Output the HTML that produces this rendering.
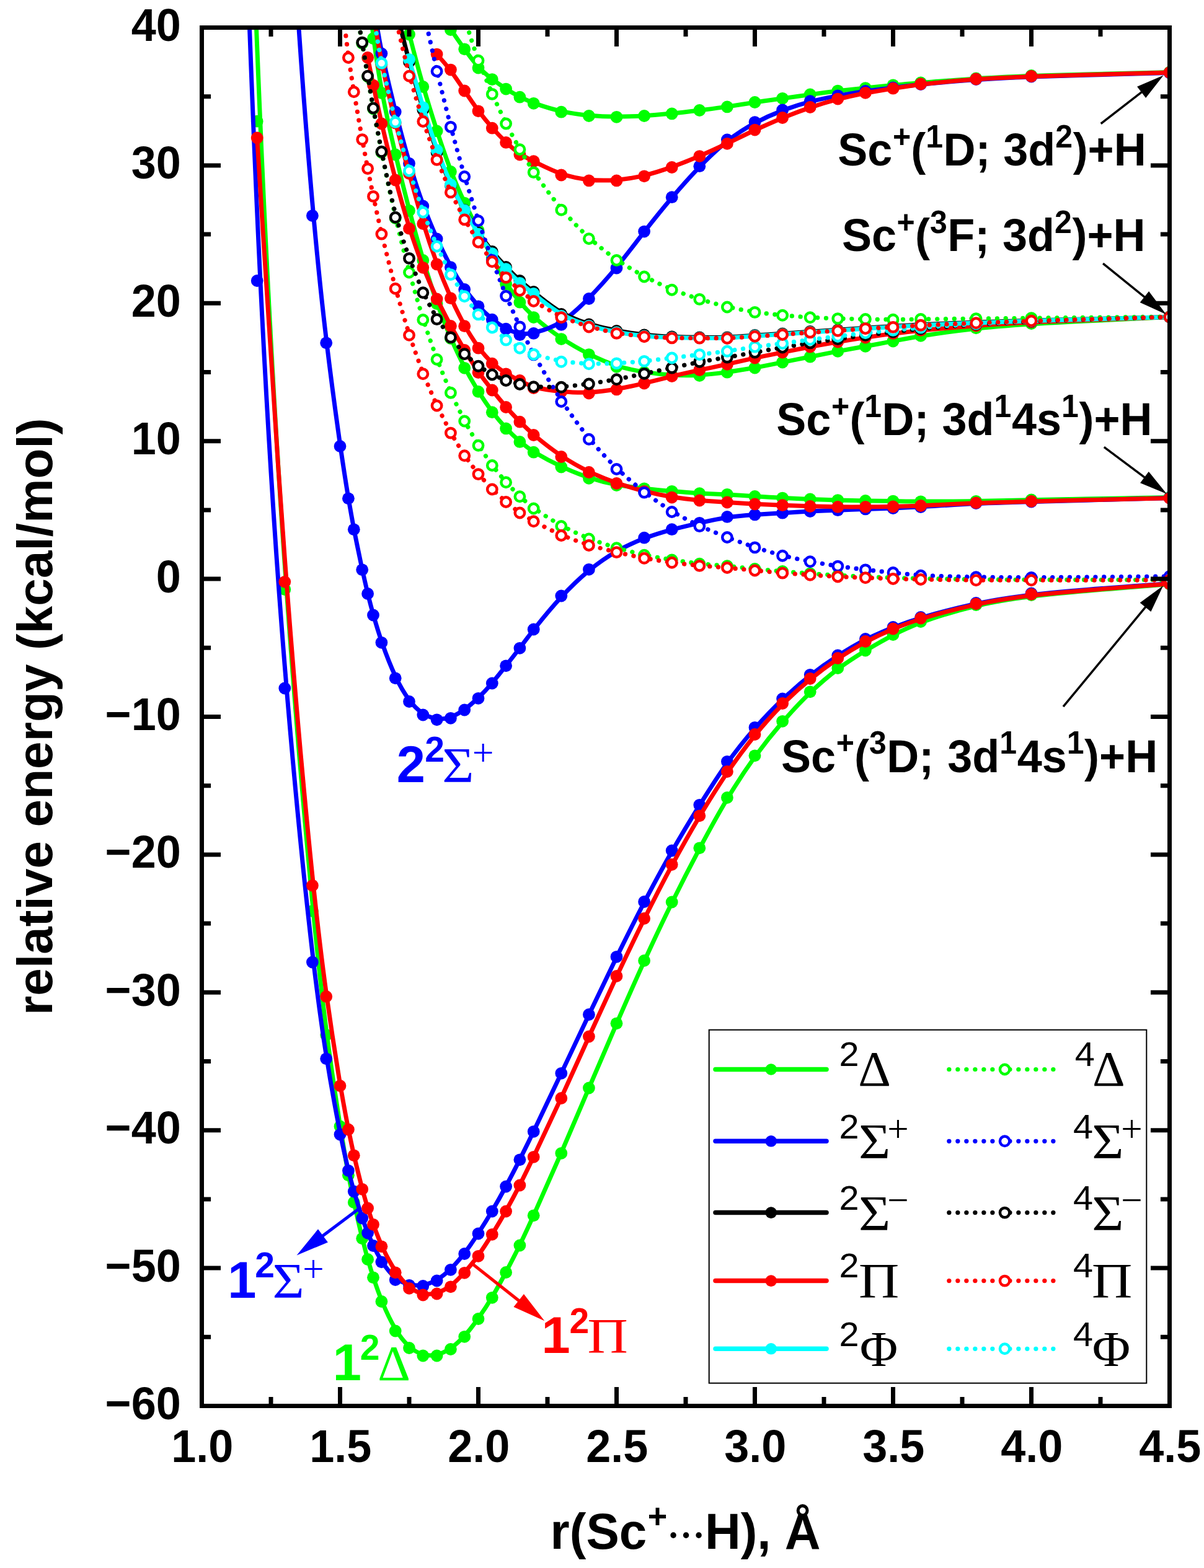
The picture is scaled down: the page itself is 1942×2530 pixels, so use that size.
<!DOCTYPE html>
<html lang="en">
<head>
<meta charset="utf-8">
<title>ScH+ potential energy curves</title>
<style>
html,body{margin:0;padding:0;background:#ffffff;}
body{width:1942px;height:2530px;overflow:hidden;}
svg{display:block;}
text{white-space:pre;font-kerning:none;}
</style>
</head>
<body>
<svg width="1942" height="2530" viewBox="0 0 1942 2530">
<rect x="0" y="0" width="1942" height="2530" fill="#ffffff"/>
<defs><clipPath id="pc"><rect x="325.5" y="44.5" width="1561" height="2224"/></clipPath></defs>
<g clip-path="url(#pc)">
<path d="M370.1 -1523.4C385 -790.8 399.8 -297.5 414.7 75C429.6 447.5 444.4 699.2 459.3 911.6C474.2 1124 489 1297 500.2 1416.8C511.3 1536.7 518.8 1603.3 526.2 1661.2C533.6 1719.2 541.1 1768.3 547 1806C553 1843.8 557.4 1870 561.1 1890.5C564.9 1910.9 567.8 1925.4 571.5 1942.4C575.3 1959.4 579.7 1978.9 583.4 1994.2C587.2 2009.5 590.1 2020.8 593.1 2031.3C596.1 2041.8 599 2051.5 602.8 2062.9C606.5 2074.2 610.9 2087.1 616.9 2101.5C622.8 2115.8 630.3 2131.7 637.7 2144.2C645.1 2156.7 652.6 2165.8 660 2172.5C667.4 2179.2 674.9 2183.3 682.3 2185.4C689.7 2187.5 697.2 2187.5 704.6 2185.8C712 2184 719.5 2180.5 726.9 2175.4C734.3 2170.3 741.8 2163.5 749.2 2155.4C756.6 2147.2 764.1 2137.6 771.5 2127.1C778.9 2116.6 786.4 2105.2 793.8 2092.7C801.2 2080.2 808.7 2066.6 816.1 2052.5C823.5 2038.5 831 2024 838.4 2008.7C845.8 1993.4 853.3 1977.4 864.4 1952.6C875.6 1927.8 890.4 1894.3 905.3 1860C920.2 1825.7 935 1790.6 949.9 1755.7C964.8 1720.8 979.6 1686 994.5 1651.8C1009.4 1617.5 1024.2 1583.8 1039.1 1551.1C1054 1518.5 1068.8 1487 1083.7 1456.7C1098.6 1426.4 1113.4 1397.4 1128.3 1369.3C1143.2 1341.2 1158 1314.1 1172.9 1289.3C1187.8 1264.4 1202.6 1241.9 1217.5 1221.3C1232.4 1200.8 1247.2 1182.3 1262.1 1165.1C1277 1148 1291.8 1132.1 1306.7 1117.8C1321.6 1103.5 1336.4 1090.8 1351.3 1079.6C1366.2 1068.5 1381 1059 1395.9 1050C1410.8 1041 1425.6 1032.5 1440.5 1024.8C1455.4 1017 1470.2 1010 1492.5 1002C1514.8 994 1544.6 985 1574.3 977.8C1604 970.7 1633.8 965.3 1685.8 959.8C1737.8 954.2 1812.2 948.3 1849.3 945.4C1886.5 942.5 1886.5 942.5 1886.5 942.5" fill="none" stroke="#00ff00" stroke-width="7.0" stroke-linejoin="round"/>
<g fill="#00ff00"><circle cx="414.7" cy="195.7" r="9.9"/><circle cx="459.3" cy="951" r="9.9"/><circle cx="503.9" cy="1470" r="9.9"/><circle cx="526.2" cy="1670" r="9.9"/><circle cx="548.5" cy="1817.5" r="9.9"/><circle cx="561.9" cy="1896.3" r="9.9"/><circle cx="570.8" cy="1940" r="9.9"/><circle cx="584.2" cy="1998.3" r="9.9"/><circle cx="593.1" cy="2032" r="9.9"/><circle cx="602" cy="2061.3" r="9.9"/><circle cx="615.4" cy="2100" r="9.9"/><circle cx="637.7" cy="2147.5" r="9.9"/><circle cx="660" cy="2175" r="9.9"/><circle cx="682.3" cy="2187.5" r="9.9"/><circle cx="704.6" cy="2187.5" r="9.9"/><circle cx="726.9" cy="2177" r="9.9"/><circle cx="749.2" cy="2156.8" r="9.9"/><circle cx="771.5" cy="2128" r="9.9"/><circle cx="793.8" cy="2093.8" r="9.9"/><circle cx="816.1" cy="2053" r="9.9"/><circle cx="838.4" cy="2009.5" r="9.9"/><circle cx="860.7" cy="1961.3" r="9.9"/><circle cx="905.3" cy="1860.8" r="9.9"/><circle cx="949.9" cy="1755.5" r="9.9"/><circle cx="994.5" cy="1651.3" r="9.9"/><circle cx="1039.1" cy="1550" r="9.9"/><circle cx="1083.7" cy="1455.5" r="9.9"/><circle cx="1128.3" cy="1368.3" r="9.9"/><circle cx="1172.9" cy="1287" r="9.9"/><circle cx="1217.5" cy="1219.3" r="9.9"/><circle cx="1262.1" cy="1163.8" r="9.9"/><circle cx="1306.7" cy="1116.3" r="9.9"/><circle cx="1351.3" cy="1078" r="9.9"/><circle cx="1395.9" cy="1049.5" r="9.9"/><circle cx="1440.5" cy="1024" r="9.9"/><circle cx="1485.1" cy="1003" r="9.9"/><circle cx="1574.3" cy="976" r="9.9"/><circle cx="1663.5" cy="960" r="9.9"/><circle cx="1886.5" cy="942.5" r="9.9"/></g>
<path d="M593.1 -28C596.1 7.3 599 34.7 602.8 63C606.5 91.3 610.9 120.7 616.9 151.9C622.8 183.2 630.3 216.3 637.7 248C645.1 279.7 652.6 309.8 660 338.2C667.4 366.7 674.9 393.3 682.3 418.3C689.7 443.3 697.2 466.7 704.6 487.7C712 508.7 719.5 527.3 726.9 544.6C734.3 561.9 741.8 577.9 749.2 592.2C756.6 606.5 764.1 619.2 771.5 631.1C778.9 643 786.4 654.1 793.8 664C801.2 673.9 808.7 682.7 816.1 690.6C823.5 698.6 831 705.7 838.4 712.1C845.8 718.5 853.3 724.1 864.4 730.9C875.6 737.6 890.4 745.6 905.3 752.6C920.2 759.6 935 765.7 949.9 770.6C964.8 775.5 979.6 779.3 994.5 782C1009.4 784.8 1024.2 786.5 1039.1 788.2C1054 789.8 1068.8 791.3 1083.7 792.6C1098.6 793.9 1113.4 795.1 1128.3 795.9C1143.2 796.7 1158 797.3 1172.9 798C1187.8 798.8 1202.6 799.9 1217.5 800.8C1232.4 801.8 1247.2 802.7 1262.1 803.4C1277 804.2 1291.8 804.8 1306.7 805.4C1321.6 806 1336.4 806.5 1351.3 807C1366.2 807.4 1381 807.7 1395.9 807.9C1410.8 808.2 1425.6 808.4 1440.5 808.6C1455.4 808.8 1470.2 809.1 1492.5 809.1C1514.8 809.1 1544.6 809 1574.3 808.5C1604 808 1633.8 807.3 1685.8 806.2C1737.8 805.2 1812.2 803.8 1849.3 803.2C1886.5 802.5 1886.5 802.5 1886.5 802.5" fill="none" stroke="#00ff00" stroke-width="7.0" stroke-linejoin="round"/>
<g fill="#00ff00"><circle cx="602" cy="62" r="9.9"/><circle cx="615.4" cy="150" r="9.9"/><circle cx="637.7" cy="249.5" r="9.9"/><circle cx="660" cy="340" r="9.9"/><circle cx="682.3" cy="420" r="9.9"/><circle cx="704.6" cy="490" r="9.9"/><circle cx="726.9" cy="546" r="9.9"/><circle cx="749.2" cy="593.8" r="9.9"/><circle cx="771.5" cy="631.9" r="9.9"/><circle cx="793.8" cy="665.2" r="9.9"/><circle cx="816.1" cy="691.4" r="9.9"/><circle cx="838.4" cy="712.9" r="9.9"/><circle cx="860.7" cy="729.7" r="9.9"/><circle cx="905.3" cy="753.5" r="9.9"/><circle cx="949.9" cy="771.8" r="9.9"/><circle cx="994.5" cy="783" r="9.9"/><circle cx="1039.1" cy="788.3" r="9.9"/><circle cx="1083.7" cy="792.8" r="9.9"/><circle cx="1128.3" cy="796.2" r="9.9"/><circle cx="1172.9" cy="797.8" r="9.9"/><circle cx="1217.5" cy="800.9" r="9.9"/><circle cx="1262.1" cy="803.6" r="9.9"/><circle cx="1306.7" cy="805.4" r="9.9"/><circle cx="1351.3" cy="807.1" r="9.9"/><circle cx="1395.9" cy="808" r="9.9"/><circle cx="1440.5" cy="808.6" r="9.9"/><circle cx="1485.1" cy="809.3" r="9.9"/><circle cx="1574.3" cy="808.8" r="9.9"/><circle cx="1663.5" cy="806.5" r="9.9"/><circle cx="1886.5" cy="802.5" r="9.9"/></g>
<path d="M637.7 -40.8C645.1 -4.8 652.6 25.3 660 54.5C667.4 83.7 674.9 111.8 682.3 137.8C689.7 163.8 697.2 187.6 704.6 210.4C712 233.2 719.5 255.1 726.9 274.4C734.3 293.8 741.8 310.7 749.2 326.5C756.6 342.3 764.1 357 771.5 371.6C778.9 386.1 786.4 400.6 793.8 415.1C801.2 429.5 808.7 444.1 816.1 456.2C823.5 468.3 831 478 838.4 486.9C845.8 495.8 853.3 504 864.4 513.9C875.6 523.8 890.4 535.4 905.3 545.4C920.2 555.4 935 563.8 949.9 571.2C964.8 578.7 979.6 585.2 994.5 590C1009.4 594.8 1024.2 597.7 1039.1 600.1C1054 602.5 1068.8 604.2 1083.7 605.1C1098.6 606 1113.4 606.1 1128.3 605.2C1143.2 604.3 1158 602.5 1172.9 600.4C1187.8 598.3 1202.6 596 1217.5 593.3C1232.4 590.6 1247.2 587.6 1262.1 584.6C1277 581.6 1291.8 578.7 1306.7 575.7C1321.6 572.7 1336.4 569.8 1351.3 566.9C1366.2 564.1 1381 561.5 1395.9 558.8C1410.8 556 1425.6 553.3 1440.5 550.4C1455.4 547.6 1470.2 544.7 1492.5 541.2C1514.8 537.6 1544.6 533.5 1574.3 530.2C1604 526.9 1633.8 524.5 1685.8 521.5C1737.8 518.6 1812.2 515 1849.3 513.3C1886.5 511.5 1886.5 511.5 1886.5 511.5" fill="none" stroke="#00ff00" stroke-width="7.0" stroke-linejoin="round"/>
<g fill="#00ff00"><circle cx="660" cy="55.5" r="9.9"/><circle cx="682.3" cy="140" r="9.9"/><circle cx="704.6" cy="211.4" r="9.9"/><circle cx="726.9" cy="276.9" r="9.9"/><circle cx="749.2" cy="327.6" r="9.9"/><circle cx="771.5" cy="371.7" r="9.9"/><circle cx="793.8" cy="415" r="9.9"/><circle cx="816.1" cy="458.6" r="9.9"/><circle cx="838.4" cy="487.7" r="9.9"/><circle cx="860.7" cy="512.1" r="9.9"/><circle cx="905.3" cy="547.1" r="9.9"/><circle cx="949.9" cy="572.1" r="9.9"/><circle cx="994.5" cy="591.8" r="9.9"/><circle cx="1039.1" cy="600.7" r="9.9"/><circle cx="1083.7" cy="606" r="9.9"/><circle cx="1128.3" cy="606.1" r="9.9"/><circle cx="1172.9" cy="600.7" r="9.9"/><circle cx="1217.5" cy="593.6" r="9.9"/><circle cx="1262.1" cy="584.6" r="9.9"/><circle cx="1306.7" cy="575.7" r="9.9"/><circle cx="1351.3" cy="566.8" r="9.9"/><circle cx="1395.9" cy="558.8" r="9.9"/><circle cx="1440.5" cy="550.5" r="9.9"/><circle cx="1485.1" cy="541.8" r="9.9"/><circle cx="1574.3" cy="529.3" r="9.9"/><circle cx="1663.5" cy="522.1" r="9.9"/><circle cx="1886.5" cy="511.5" r="9.9"/></g>
<path d="M686 -31.7C689.7 -23.3 697.2 -6.7 704.6 8C712 22.7 719.5 35.3 726.9 46.9C734.3 58.4 741.8 68.9 749.2 79.1C756.6 89.4 764.1 99.5 771.5 107.6C778.9 115.8 786.4 121.9 793.8 127.6C801.2 133.3 808.7 138.4 816.1 143.2C823.5 148 831 152.3 838.4 156.2C845.8 160.1 853.3 163.4 864.4 167.4C875.6 171.4 890.4 176.1 905.3 179.4C920.2 182.8 935 184.9 949.9 186.2C964.8 187.6 979.6 188.2 994.5 188.2C1009.4 188.2 1024.2 187.6 1039.1 186.7C1054 185.8 1068.8 184.6 1083.7 183.1C1098.6 181.6 1113.4 179.8 1128.3 178C1143.2 176.1 1158 174.3 1172.9 172.1C1187.8 169.9 1202.6 167.5 1217.5 165.2C1232.4 162.9 1247.2 160.9 1262.1 158.8C1277 156.7 1291.8 154.6 1306.7 152.6C1321.6 150.5 1336.4 148.6 1351.3 146.8C1366.2 145.1 1381 143.6 1395.9 142C1410.8 140.5 1425.6 138.9 1440.5 137.5C1455.4 136 1470.2 134.8 1492.5 133C1514.8 131.2 1544.6 128.8 1574.3 126.9C1604 125 1633.8 123.5 1685.8 121.8C1737.8 120.2 1812.2 118.3 1849.3 117.4C1886.5 116.5 1886.5 116.5 1886.5 116.5" fill="none" stroke="#00ff00" stroke-width="7.0" stroke-linejoin="round"/>
<g fill="#00ff00"><circle cx="726.9" cy="48" r="9.9"/><circle cx="749.2" cy="79.3" r="9.9"/><circle cx="771.5" cy="109.6" r="9.9"/><circle cx="793.8" cy="128.1" r="9.9"/><circle cx="816.1" cy="143.6" r="9.9"/><circle cx="838.4" cy="156.7" r="9.9"/><circle cx="860.7" cy="166.8" r="9.9"/><circle cx="905.3" cy="180.7" r="9.9"/><circle cx="949.9" cy="187" r="9.9"/><circle cx="994.5" cy="188.8" r="9.9"/><circle cx="1039.1" cy="187" r="9.9"/><circle cx="1083.7" cy="183.4" r="9.9"/><circle cx="1128.3" cy="178" r="9.9"/><circle cx="1172.9" cy="172.4" r="9.9"/><circle cx="1217.5" cy="165" r="9.9"/><circle cx="1262.1" cy="158.8" r="9.9"/><circle cx="1306.7" cy="152.5" r="9.9"/><circle cx="1351.3" cy="146.6" r="9.9"/><circle cx="1395.9" cy="142.1" r="9.9"/><circle cx="1440.5" cy="137.3" r="9.9"/><circle cx="1485.1" cy="133.5" r="9.9"/><circle cx="1574.3" cy="126.5" r="9.9"/><circle cx="1663.5" cy="122" r="9.9"/><circle cx="1886.5" cy="116.5" r="9.9"/></g>
<path d="M370.1 -1054.5C385 -429 399.8 12 414.7 342.1C429.6 672.2 444.4 891.3 459.3 1074.6C474.2 1257.8 489 1405.2 500.2 1504.8C511.3 1604.4 518.8 1656.4 526.2 1702.7C533.6 1749 541.1 1789.8 547 1819.8C553 1849.9 557.4 1869.4 561.1 1884.7C564.9 1900 567.8 1911.3 571.5 1924C575.3 1936.8 579.7 1951.2 583.4 1962.3C587.2 1973.5 590.1 1981.5 593.1 1988.9C596.1 1996.3 599 2003.2 602.8 2011C606.5 2018.8 610.9 2027.5 616.9 2036.7C622.8 2045.9 630.3 2055.4 637.7 2061.7C645.1 2067.9 652.6 2070.9 660 2072.5C667.4 2074.2 674.9 2074.6 682.3 2073.4C689.7 2072.2 697.2 2069.3 704.6 2065C712 2060.6 719.5 2054.7 726.9 2047.5C734.3 2040.2 741.8 2031.6 749.2 2021.9C756.6 2012.2 764.1 2001.3 771.5 1989.9C778.9 1978.5 786.4 1966.5 793.8 1953.8C801.2 1941.2 808.7 1927.8 816.1 1914C823.5 1900.1 831 1885.7 838.4 1870.9C845.8 1856.1 853.3 1841 864.4 1817.7C875.6 1794.5 890.4 1763.1 905.3 1731.7C920.2 1700.2 935 1668.6 949.9 1637.3C964.8 1605.9 979.6 1574.9 994.5 1544.5C1009.4 1514.2 1024.2 1484.6 1039.1 1456C1054 1427.5 1068.8 1400 1083.7 1374C1098.6 1347.9 1113.4 1323.4 1128.3 1299.4C1143.2 1275.5 1158 1252.1 1172.9 1231.3C1187.8 1210.5 1202.6 1192.1 1217.5 1175.2C1232.4 1158.4 1247.2 1142.9 1262.1 1128.8C1277 1114.6 1291.8 1101.7 1306.7 1090C1321.6 1078.4 1336.4 1067.9 1351.3 1058.3C1366.2 1048.7 1381 1039.8 1395.9 1032.2C1410.8 1024.7 1425.6 1018.3 1440.5 1012.5C1455.4 1006.7 1470.2 1001.3 1492.5 994.8C1514.8 988.3 1544.6 980.7 1574.3 974.2C1604 967.8 1633.8 962.7 1685.8 957.4C1737.8 952.2 1812.2 946.8 1849.3 944.2C1886.5 941.5 1886.5 941.5 1886.5 941.5" fill="none" stroke="#0000ff" stroke-width="7.0" stroke-linejoin="round"/>
<g fill="#0000ff"><circle cx="414.7" cy="453" r="9.9"/><circle cx="459.3" cy="1110.5" r="9.9"/><circle cx="503.9" cy="1552.5" r="9.9"/><circle cx="526.2" cy="1708.3" r="9.9"/><circle cx="548.5" cy="1830.5" r="9.9"/><circle cx="561.9" cy="1888.8" r="9.9"/><circle cx="570.8" cy="1922.5" r="9.9"/><circle cx="584.2" cy="1965.5" r="9.9"/><circle cx="593.1" cy="1989.5" r="9.9"/><circle cx="602" cy="2010" r="9.9"/><circle cx="615.4" cy="2036.3" r="9.9"/><circle cx="637.7" cy="2065" r="9.9"/><circle cx="660" cy="2073.8" r="9.9"/><circle cx="682.3" cy="2075" r="9.9"/><circle cx="704.6" cy="2066.5" r="9.9"/><circle cx="726.9" cy="2048.8" r="9.9"/><circle cx="749.2" cy="2023" r="9.9"/><circle cx="771.5" cy="1990.5" r="9.9"/><circle cx="793.8" cy="1954.5" r="9.9"/><circle cx="816.1" cy="1914.5" r="9.9"/><circle cx="838.4" cy="1871.3" r="9.9"/><circle cx="860.7" cy="1825.8" r="9.9"/><circle cx="905.3" cy="1731.8" r="9.9"/><circle cx="949.9" cy="1637" r="9.9"/><circle cx="994.5" cy="1543.8" r="9.9"/><circle cx="1039.1" cy="1455" r="9.9"/><circle cx="1083.7" cy="1372.5" r="9.9"/><circle cx="1128.3" cy="1298.8" r="9.9"/><circle cx="1172.9" cy="1228.8" r="9.9"/><circle cx="1217.5" cy="1173.8" r="9.9"/><circle cx="1262.1" cy="1127.5" r="9.9"/><circle cx="1306.7" cy="1088.8" r="9.9"/><circle cx="1351.3" cy="1057.5" r="9.9"/><circle cx="1395.9" cy="1031" r="9.9"/><circle cx="1440.5" cy="1012" r="9.9"/><circle cx="1485.1" cy="996" r="9.9"/><circle cx="1574.3" cy="973" r="9.9"/><circle cx="1663.5" cy="957.5" r="9.9"/><circle cx="1886.5" cy="941.5" r="9.9"/></g>
<path d="M459.3 -348.7C474.2 -40.6 489 153.7 500.2 285.1C511.3 416.5 518.8 484.9 526.2 546.9C533.6 608.9 541.1 664.4 547 706.3C553 748.1 557.4 776.2 561.1 798.6C564.9 821 567.8 837.6 571.5 856.8C575.3 876 579.7 897.6 583.4 914.9C587.2 932.2 590.1 945.1 593.1 957.3C596.1 969.5 599 981 602.8 994.1C606.5 1007.3 610.9 1022 616.9 1039C622.8 1056 630.3 1075.1 637.7 1091C645.1 1106.9 652.6 1119.4 660 1129.3C667.4 1139.2 674.9 1146.3 682.3 1151.2C689.7 1156.1 697.2 1158.7 704.6 1159.6C712 1160.5 719.5 1159.6 726.9 1157C734.3 1154.4 741.8 1149.9 749.2 1144.6C756.6 1139.3 764.1 1133 771.5 1125.9C778.9 1118.7 786.4 1110.6 793.8 1101.9C801.2 1093.1 808.7 1083.7 816.1 1074.2C823.5 1064.8 831 1055.3 838.4 1045.5C845.8 1035.7 853.3 1025.6 864.4 1011.6C875.6 997.5 890.4 979.5 905.3 963.4C920.2 947.3 935 933 949.9 920.8C964.8 908.5 979.6 898.3 994.5 889.8C1009.4 881.2 1024.2 874.5 1039.1 868.8C1054 863.2 1068.8 858.7 1083.7 854.7C1098.6 850.7 1113.4 847.3 1128.3 843.9C1143.2 840.5 1158 837.2 1172.9 835C1187.8 832.7 1202.6 831.6 1217.5 830.5C1232.4 829.5 1247.2 828.6 1262.1 827.7C1277 826.8 1291.8 825.9 1306.7 825.1C1321.6 824.4 1336.4 823.8 1351.3 823.2C1366.2 822.6 1381 822 1395.9 821.5C1410.8 820.9 1425.6 820.5 1440.5 819.9C1455.4 819.3 1470.2 818.7 1492.5 817.3C1514.8 816 1544.6 814 1574.3 812.6C1604 811.2 1633.8 810.3 1685.8 808.9C1737.8 807.5 1812.2 805.5 1849.3 804.5C1886.5 803.5 1886.5 803.5 1886.5 803.5" fill="none" stroke="#0000ff" stroke-width="7.0" stroke-linejoin="round"/>
<g fill="#0000ff"><circle cx="503.9" cy="348.1" r="9.9"/><circle cx="526.2" cy="553.3" r="9.9"/><circle cx="548.5" cy="720" r="9.9"/><circle cx="561.9" cy="804.3" r="9.9"/><circle cx="570.8" cy="854.3" r="9.9"/><circle cx="584.2" cy="919.3" r="9.9"/><circle cx="593.1" cy="958" r="9.9"/><circle cx="602" cy="992.5" r="9.9"/><circle cx="615.4" cy="1036.8" r="9.9"/><circle cx="637.7" cy="1094.3" r="9.9"/><circle cx="660" cy="1132" r="9.9"/><circle cx="682.3" cy="1153.5" r="9.9"/><circle cx="704.6" cy="1161.3" r="9.9"/><circle cx="726.9" cy="1158.8" r="9.9"/><circle cx="749.2" cy="1145.5" r="9.9"/><circle cx="771.5" cy="1126.8" r="9.9"/><circle cx="793.8" cy="1102.5" r="9.9"/><circle cx="816.1" cy="1074.3" r="9.9"/><circle cx="838.4" cy="1045.8" r="9.9"/><circle cx="860.7" cy="1015.5" r="9.9"/><circle cx="905.3" cy="961.5" r="9.9"/><circle cx="949.9" cy="918.8" r="9.9"/><circle cx="994.5" cy="888" r="9.9"/><circle cx="1039.1" cy="867.7" r="9.9"/><circle cx="1083.7" cy="854.2" r="9.9"/><circle cx="1128.3" cy="843.8" r="9.9"/><circle cx="1172.9" cy="833.9" r="9.9"/><circle cx="1217.5" cy="830.4" r="9.9"/><circle cx="1262.1" cy="827.7" r="9.9"/><circle cx="1306.7" cy="825" r="9.9"/><circle cx="1351.3" cy="823.2" r="9.9"/><circle cx="1395.9" cy="821.4" r="9.9"/><circle cx="1440.5" cy="820" r="9.9"/><circle cx="1485.1" cy="818" r="9.9"/><circle cx="1574.3" cy="812" r="9.9"/><circle cx="1663.5" cy="809.5" r="9.9"/><circle cx="1886.5" cy="803.5" r="9.9"/></g>
<path d="M602.8 4.4C606.5 35.5 610.9 60.9 616.9 89.4C622.8 117.8 630.3 149.1 637.7 178.7C645.1 208.3 652.6 236 660 261.3C667.4 286.7 674.9 309.5 682.3 329.8C689.7 350.1 697.2 367.8 704.6 384.3C712 400.7 719.5 416 726.9 429.5C734.3 443.1 741.8 455 749.2 465.5C756.6 476 764.1 485.2 771.5 493.3C778.9 501.4 786.4 508.6 793.8 514.6C801.2 520.7 808.7 525.7 816.1 529.8C823.5 533.9 831 537 838.4 538.2C845.8 539.4 853.3 538.7 864.4 536C875.6 533.2 890.4 528.6 905.3 519.2C920.2 509.9 935 496 949.9 480.7C964.8 465.5 979.6 449 994.5 430.9C1009.4 412.9 1024.2 393.2 1039.1 374.2C1054 355.1 1068.8 336.7 1083.7 319.1C1098.6 301.5 1113.4 284.9 1128.3 269.4C1143.2 254 1158 239.7 1172.9 227.9C1187.8 216 1202.6 206.6 1217.5 198.6C1232.4 190.6 1247.2 184 1262.1 178.4C1277 172.7 1291.8 168 1306.7 164.1C1321.6 160.2 1336.4 157.3 1351.3 154.6C1366.2 151.9 1381 149.4 1395.9 147.3C1410.8 145.2 1425.6 143.3 1440.5 141.5C1455.4 139.7 1470.2 137.8 1492.5 135.6C1514.8 133.3 1544.6 130.7 1574.3 128.6C1604 126.5 1633.8 125 1685.8 123.2C1737.8 121.5 1812.2 119.5 1849.3 118.5C1886.5 117.5 1886.5 117.5 1886.5 117.5" fill="none" stroke="#0000ff" stroke-width="7.0" stroke-linejoin="round"/>
<g fill="#0000ff"><circle cx="615.4" cy="86.4" r="9.9"/><circle cx="637.7" cy="180.5" r="9.9"/><circle cx="660" cy="263.8" r="9.9"/><circle cx="682.3" cy="332.4" r="9.9"/><circle cx="704.6" cy="385.5" r="9.9"/><circle cx="726.9" cy="431.2" r="9.9"/><circle cx="749.2" cy="466.9" r="9.9"/><circle cx="771.5" cy="494.3" r="9.9"/><circle cx="793.8" cy="515.7" r="9.9"/><circle cx="816.1" cy="530.7" r="9.9"/><circle cx="838.4" cy="540.2" r="9.9"/><circle cx="860.7" cy="537.9" r="9.9"/><circle cx="905.3" cy="523.9" r="9.9"/><circle cx="949.9" cy="482" r="9.9"/><circle cx="994.5" cy="432.5" r="9.9"/><circle cx="1039.1" cy="373.6" r="9.9"/><circle cx="1083.7" cy="318.2" r="9.9"/><circle cx="1128.3" cy="268.2" r="9.9"/><circle cx="1172.9" cy="225.5" r="9.9"/><circle cx="1217.5" cy="197.1" r="9.9"/><circle cx="1262.1" cy="177.5" r="9.9"/><circle cx="1306.7" cy="163.2" r="9.9"/><circle cx="1351.3" cy="154.3" r="9.9"/><circle cx="1395.9" cy="147" r="9.9"/><circle cx="1440.5" cy="141.5" r="9.9"/><circle cx="1485.1" cy="136" r="9.9"/><circle cx="1574.3" cy="128" r="9.9"/><circle cx="1663.5" cy="123.5" r="9.9"/><circle cx="1886.5" cy="117.5" r="9.9"/></g>
<path d="M619.1 -105.8C622.8 -81.7 630.3 -33.3 637.7 5C645.1 43.3 652.6 71.7 660 98.7C667.4 125.7 674.9 151.3 682.3 175.7C689.7 200 697.2 223 704.6 243.3C712 263.7 719.5 281.3 726.9 296.8C734.3 312.3 741.8 325.7 749.2 338.5C756.6 351.3 764.1 363.7 771.5 374.8C778.9 386 786.4 396 793.8 405.2C801.2 414.3 808.7 422.7 816.1 430.5C823.5 438.3 831 445.7 838.4 452.3C845.8 459 853.3 465 864.4 474C875.6 483 890.4 495 905.3 503.8C920.2 512.5 935 518 949.9 522.5C964.8 527 979.6 530.5 994.5 533.3C1009.4 536.2 1024.2 538.3 1039.1 539.9C1054 541.5 1068.8 542.5 1083.7 543.2C1098.6 543.8 1113.4 544.2 1128.3 544.3C1143.2 544.5 1158 544.5 1172.9 543.9C1187.8 543.3 1202.6 542.2 1217.5 541.2C1232.4 540.2 1247.2 539.3 1262.1 538.3C1277 537.3 1291.8 536.2 1306.7 535.2C1321.6 534.2 1336.4 533.3 1351.3 532.3C1366.2 531.3 1381 530.2 1395.9 529.2C1410.8 528.2 1425.6 527.3 1440.5 526.4C1455.4 525.5 1470.2 524.5 1492.5 523.4C1514.8 522.3 1544.6 521.2 1574.3 520.1C1604 519 1633.8 518 1685.8 516.6C1737.8 515.2 1812.2 513.3 1849.3 512.4C1886.5 511.5 1886.5 511.5 1886.5 511.5" fill="none" stroke="#000000" stroke-width="7.0" stroke-linejoin="round"/>
<g fill="#000000"><circle cx="660" cy="100" r="9.9"/><circle cx="682.3" cy="177" r="9.9"/><circle cx="704.6" cy="246" r="9.9"/><circle cx="726.9" cy="299" r="9.9"/><circle cx="749.2" cy="339" r="9.9"/><circle cx="771.5" cy="376" r="9.9"/><circle cx="793.8" cy="406" r="9.9"/><circle cx="816.1" cy="431" r="9.9"/><circle cx="838.4" cy="453" r="9.9"/><circle cx="860.7" cy="471" r="9.9"/><circle cx="905.3" cy="507" r="9.9"/><circle cx="949.9" cy="523.5" r="9.9"/><circle cx="994.5" cy="534" r="9.9"/><circle cx="1039.1" cy="540.5" r="9.9"/><circle cx="1083.7" cy="543.5" r="9.9"/><circle cx="1128.3" cy="544.5" r="9.9"/><circle cx="1172.9" cy="544.5" r="9.9"/><circle cx="1217.5" cy="541" r="9.9"/><circle cx="1262.1" cy="538.5" r="9.9"/><circle cx="1306.7" cy="535" r="9.9"/><circle cx="1351.3" cy="532.5" r="9.9"/><circle cx="1395.9" cy="529" r="9.9"/><circle cx="1440.5" cy="526.5" r="9.9"/><circle cx="1485.1" cy="523.5" r="9.9"/><circle cx="1574.3" cy="520" r="9.9"/><circle cx="1663.5" cy="517" r="9.9"/><circle cx="1886.5" cy="511.5" r="9.9"/></g>
<path d="M414.7 222.4C414.7 222.4 414.7 222.4 422.1 341.8C429.6 461.2 444.4 700 459.3 901.1C474.2 1102.1 489 1265.5 500.2 1377C511.3 1488.5 518.8 1548.3 526.2 1602.1C533.6 1656 541.1 1704 547 1739.8C553 1775.5 557.4 1799 561.1 1817.7C564.9 1836.4 567.8 1850.4 571.5 1866.4C575.3 1882.5 579.7 1900.6 583.4 1914.8C587.2 1929 590.1 1939.3 593.1 1948.8C596.1 1958.3 599 1967 602.8 1977.3C606.5 1987.6 610.9 1999.5 616.9 2012.4C622.8 2025.3 630.3 2039.3 637.7 2050.5C645.1 2061.8 652.6 2070.3 660 2076.3C667.4 2082.4 674.9 2085.9 682.3 2087.4C689.7 2088.8 697.2 2088.2 704.6 2086C712 2083.8 719.5 2080 726.9 2074.4C734.3 2068.8 741.8 2061.3 749.2 2053C756.6 2044.8 764.1 2035.8 771.5 2025.5C778.9 2015.1 786.4 2003.5 793.8 1991.4C801.2 1979.4 808.7 1966.9 816.1 1953.7C823.5 1940.5 831 1926.5 838.4 1911.9C845.8 1897.3 853.3 1882 864.4 1858.6C875.6 1835.2 890.4 1803.6 905.3 1771.2C920.2 1738.8 935 1705.7 949.9 1672.8C964.8 1640 979.6 1607.5 994.5 1575.8C1009.4 1544 1024.2 1513 1039.1 1483C1054 1453 1068.8 1424 1083.7 1396.4C1098.6 1368.8 1113.4 1342.5 1128.3 1317.5C1143.2 1292.5 1158 1268.8 1172.9 1246.9C1187.8 1225 1202.6 1205 1217.5 1186.7C1232.4 1168.3 1247.2 1151.7 1262.1 1136.7C1277 1121.7 1291.8 1108.3 1306.7 1096.2C1321.6 1084 1336.4 1073 1351.3 1063C1366.2 1053 1381 1044 1395.9 1036.1C1410.8 1028.2 1425.6 1021.3 1440.5 1015.1C1455.4 1008.8 1470.2 1003.2 1492.5 996.5C1514.8 989.8 1544.6 982 1574.3 975.6C1604 969.1 1633.8 964 1685.8 958.6C1737.8 953.2 1812.2 947.6 1849.3 944.8C1886.5 942 1886.5 942 1886.5 942" fill="none" stroke="#ff0000" stroke-width="7.0" stroke-linejoin="round"/>
<g fill="#ff0000"><circle cx="414.7" cy="222.4" r="9.9"/><circle cx="459.3" cy="938.8" r="9.9"/><circle cx="503.9" cy="1428.8" r="9.9"/><circle cx="526.2" cy="1608" r="9.9"/><circle cx="548.5" cy="1752" r="9.9"/><circle cx="561.9" cy="1822.5" r="9.9"/><circle cx="570.8" cy="1864.3" r="9.9"/><circle cx="584.2" cy="1918.8" r="9.9"/><circle cx="593.1" cy="1949.5" r="9.9"/><circle cx="602" cy="1975.8" r="9.9"/><circle cx="615.4" cy="2011.3" r="9.9"/><circle cx="637.7" cy="2053.3" r="9.9"/><circle cx="660" cy="2078.8" r="9.9"/><circle cx="682.3" cy="2089.5" r="9.9"/><circle cx="704.6" cy="2087.5" r="9.9"/><circle cx="726.9" cy="2076.3" r="9.9"/><circle cx="749.2" cy="2053.8" r="9.9"/><circle cx="771.5" cy="2026.8" r="9.9"/><circle cx="793.8" cy="1991.8" r="9.9"/><circle cx="816.1" cy="1954.5" r="9.9"/><circle cx="838.4" cy="1912.5" r="9.9"/><circle cx="860.7" cy="1866.8" r="9.9"/><circle cx="905.3" cy="1772" r="9.9"/><circle cx="949.9" cy="1672.5" r="9.9"/><circle cx="994.5" cy="1575" r="9.9"/><circle cx="1039.1" cy="1482" r="9.9"/><circle cx="1083.7" cy="1395" r="9.9"/><circle cx="1128.3" cy="1316.3" r="9.9"/><circle cx="1172.9" cy="1245" r="9.9"/><circle cx="1217.5" cy="1185" r="9.9"/><circle cx="1262.1" cy="1135" r="9.9"/><circle cx="1306.7" cy="1095" r="9.9"/><circle cx="1351.3" cy="1062" r="9.9"/><circle cx="1395.9" cy="1035" r="9.9"/><circle cx="1440.5" cy="1014.5" r="9.9"/><circle cx="1485.1" cy="997.5" r="9.9"/><circle cx="1574.3" cy="974.3" r="9.9"/><circle cx="1663.5" cy="958.8" r="9.9"/><circle cx="1886.5" cy="942" r="9.9"/></g>
<path d="M593.1 93C593.1 93 593.1 93 594.6 100.4C596.1 107.9 599 122.7 602.8 140.5C606.5 158.2 610.9 178.9 616.9 204.3C622.8 229.8 630.3 260.2 637.7 288.4C645.1 316.6 652.6 342.6 660 366.2C667.4 389.7 674.9 410.8 682.3 429.7C689.7 448.7 697.2 465.5 704.6 481.2C712 496.9 719.5 511.5 726.9 525.2C734.3 539 741.8 552 749.2 564.5C756.6 577 764.1 589 771.5 599.8C778.9 610.5 786.4 620 793.8 629.3C801.2 638.7 808.7 647.8 816.1 656.4C823.5 664.9 831 672.8 838.4 680.3C845.8 687.8 853.3 694.9 864.4 704.3C875.6 713.7 890.4 725.3 905.3 735.3C920.2 745.3 935 753.7 949.9 760.8C964.8 768 979.6 774 994.5 779.1C1009.4 784.3 1024.2 788.5 1039.1 792.3C1054 796.1 1068.8 799.3 1083.7 801.8C1098.6 804.2 1113.4 805.9 1128.3 807.2C1143.2 808.5 1158 809.5 1172.9 810.5C1187.8 811.5 1202.6 812.4 1217.5 813.2C1232.4 814 1247.2 814.6 1262.1 815.2C1277 815.8 1291.8 816.4 1306.7 816.8C1321.6 817.3 1336.4 817.6 1351.3 817.8C1366.2 817.9 1381 817.9 1395.9 817.8C1410.8 817.8 1425.6 817.6 1440.5 817.3C1455.4 817 1470.2 816.5 1492.5 815.5C1514.8 814.4 1544.6 812.9 1574.3 811.7C1604 810.5 1633.8 809.6 1685.8 808.4C1737.8 807.1 1812.2 805.5 1849.3 804.6C1886.5 803.8 1886.5 803.8 1886.5 803.8" fill="none" stroke="#ff0000" stroke-width="7.0" stroke-linejoin="round"/>
<g fill="#ff0000"><circle cx="593.1" cy="93" r="9.9"/><circle cx="602" cy="137.6" r="9.9"/><circle cx="615.4" cy="199.5" r="9.9"/><circle cx="637.7" cy="290.5" r="9.9"/><circle cx="660" cy="368.7" r="9.9"/><circle cx="682.3" cy="431.8" r="9.9"/><circle cx="704.6" cy="482.4" r="9.9"/><circle cx="726.9" cy="526" r="9.9"/><circle cx="749.2" cy="565" r="9.9"/><circle cx="771.5" cy="601" r="9.9"/><circle cx="793.8" cy="629.5" r="9.9"/><circle cx="816.1" cy="657" r="9.9"/><circle cx="838.4" cy="680.7" r="9.9"/><circle cx="860.7" cy="702" r="9.9"/><circle cx="905.3" cy="737" r="9.9"/><circle cx="949.9" cy="762" r="9.9"/><circle cx="994.5" cy="780" r="9.9"/><circle cx="1039.1" cy="792.8" r="9.9"/><circle cx="1083.7" cy="802.6" r="9.9"/><circle cx="1128.3" cy="807.5" r="9.9"/><circle cx="1172.9" cy="810.5" r="9.9"/><circle cx="1217.5" cy="813.4" r="9.9"/><circle cx="1262.1" cy="815.2" r="9.9"/><circle cx="1306.7" cy="817" r="9.9"/><circle cx="1351.3" cy="817.9" r="9.9"/><circle cx="1395.9" cy="817.9" r="9.9"/><circle cx="1440.5" cy="817.5" r="9.9"/><circle cx="1485.1" cy="816" r="9.9"/><circle cx="1574.3" cy="811.3" r="9.9"/><circle cx="1663.5" cy="808.8" r="9.9"/><circle cx="1886.5" cy="803.8" r="9.9"/></g>
<path d="M594.6 -62.5C596.1 -45 599 -10 602.8 20.7C606.5 51.3 610.9 77.7 616.9 106.6C622.8 135.5 630.3 167 637.7 196.3C645.1 225.7 652.6 252.8 660 279.9C667.4 307 674.9 334 682.3 358.4C689.7 382.8 697.2 404.6 704.6 424.6C712 444.7 719.5 462.9 726.9 479.6C734.3 496.2 741.8 511.2 749.2 524.6C756.6 538 764.1 549.9 771.5 559.9C778.9 570 786.4 578.4 793.8 585.3C801.2 592.2 808.7 597.8 816.1 602.3C823.5 606.9 831 610.4 838.4 614.2C845.8 618 853.3 622 864.4 625C875.6 628 890.4 630 905.3 631.4C920.2 632.9 935 633.7 949.9 633.1C964.8 632.5 979.6 630.5 994.5 627.8C1009.4 625.1 1024.2 621.9 1039.1 618.3C1054 614.7 1068.8 610.9 1083.7 607.3C1098.6 603.7 1113.4 600.4 1128.3 597.2C1143.2 594 1158 590.9 1172.9 587.6C1187.8 584.4 1202.6 580.9 1217.5 577.7C1232.4 574.5 1247.2 571.6 1262.1 568.6C1277 565.6 1291.8 562.6 1306.7 559.8C1321.6 556.9 1336.4 554.3 1351.3 551.8C1366.2 549.2 1381 546.9 1395.9 544.6C1410.8 542.4 1425.6 540.3 1440.5 538.4C1455.4 536.4 1470.2 534.7 1492.5 532.5C1514.8 530.4 1544.6 527.9 1574.3 525.7C1604 523.4 1633.8 521.5 1685.8 519.1C1737.8 516.8 1812.2 514.2 1849.3 512.8C1886.5 511.5 1886.5 511.5 1886.5 511.5" fill="none" stroke="#ff0000" stroke-width="7.0" stroke-linejoin="round"/>
<g fill="#ff0000"><circle cx="615.4" cy="104" r="9.9"/><circle cx="637.7" cy="198.5" r="9.9"/><circle cx="660" cy="280" r="9.9"/><circle cx="682.3" cy="361" r="9.9"/><circle cx="704.6" cy="426.4" r="9.9"/><circle cx="726.9" cy="481.2" r="9.9"/><circle cx="749.2" cy="526.2" r="9.9"/><circle cx="771.5" cy="561.7" r="9.9"/><circle cx="793.8" cy="586.7" r="9.9"/><circle cx="816.1" cy="603.3" r="9.9"/><circle cx="838.4" cy="614" r="9.9"/><circle cx="860.7" cy="626" r="9.9"/><circle cx="905.3" cy="632" r="9.9"/><circle cx="949.9" cy="634.6" r="9.9"/><circle cx="994.5" cy="628.4" r="9.9"/><circle cx="1039.1" cy="618.6" r="9.9"/><circle cx="1083.7" cy="607" r="9.9"/><circle cx="1128.3" cy="597.1" r="9.9"/><circle cx="1172.9" cy="587.8" r="9.9"/><circle cx="1217.5" cy="577.5" r="9.9"/><circle cx="1262.1" cy="568.6" r="9.9"/><circle cx="1306.7" cy="559.6" r="9.9"/><circle cx="1351.3" cy="551.6" r="9.9"/><circle cx="1395.9" cy="544.5" r="9.9"/><circle cx="1440.5" cy="538.2" r="9.9"/><circle cx="1485.1" cy="532.9" r="9.9"/><circle cx="1574.3" cy="525.4" r="9.9"/><circle cx="1663.5" cy="519.5" r="9.9"/><circle cx="1886.5" cy="511.5" r="9.9"/></g>
<path d="M704.6 87.6C704.6 87.6 704.6 87.6 708.3 91.8C712 95.9 719.5 104.3 726.9 114.1C734.3 123.9 741.8 135.2 749.2 146.3C756.6 157.4 764.1 168.4 771.5 178.4C778.9 188.4 786.4 197.6 793.8 206C801.2 214.4 808.7 222.2 816.1 229.3C823.5 236.4 831 243 838.4 248C845.8 253.1 853.3 256.6 864.4 262.1C875.6 267.6 890.4 275.1 905.3 280.3C920.2 285.5 935 288.4 949.9 289.9C964.8 291.4 979.6 291.4 994.5 290.2C1009.4 289 1024.2 286.7 1039.1 283.1C1054 279.5 1068.8 274.8 1083.7 269.4C1098.6 264 1113.4 258.1 1128.3 251.7C1143.2 245.3 1158 238.6 1172.9 231.5C1187.8 224.4 1202.6 217 1217.5 210C1232.4 203.1 1247.2 196.5 1262.1 190.4C1277 184.3 1291.8 178.7 1306.7 173.6C1321.6 168.5 1336.4 164.1 1351.3 160.2C1366.2 156.3 1381 153.1 1395.9 150.2C1410.8 147.4 1425.6 145.1 1440.5 142.7C1455.4 140.3 1470.2 137.9 1492.5 135.4C1514.8 132.8 1544.6 130.2 1574.3 128.1C1604 126 1633.8 124.5 1685.8 122.8C1737.8 121 1812.2 119 1849.3 118C1886.5 117 1886.5 117 1886.5 117" fill="none" stroke="#ff0000" stroke-width="7.0" stroke-linejoin="round"/>
<g fill="#ff0000"><circle cx="704.6" cy="87.6" r="9.9"/><circle cx="726.9" cy="112.6" r="9.9"/><circle cx="749.2" cy="146.5" r="9.9"/><circle cx="771.5" cy="179.3" r="9.9"/><circle cx="793.8" cy="206.7" r="9.9"/><circle cx="816.1" cy="229.9" r="9.9"/><circle cx="838.4" cy="249.5" r="9.9"/><circle cx="860.7" cy="260.2" r="9.9"/><circle cx="905.3" cy="282.5" r="9.9"/><circle cx="949.9" cy="291.4" r="9.9"/><circle cx="994.5" cy="291.4" r="9.9"/><circle cx="1039.1" cy="284.3" r="9.9"/><circle cx="1083.7" cy="270" r="9.9"/><circle cx="1128.3" cy="252.1" r="9.9"/><circle cx="1172.9" cy="231.8" r="9.9"/><circle cx="1217.5" cy="209.6" r="9.9"/><circle cx="1262.1" cy="190" r="9.9"/><circle cx="1306.7" cy="173" r="9.9"/><circle cx="1351.3" cy="159.6" r="9.9"/><circle cx="1395.9" cy="149.8" r="9.9"/><circle cx="1440.5" cy="142.7" r="9.9"/><circle cx="1485.1" cy="135.5" r="9.9"/><circle cx="1574.3" cy="127.5" r="9.9"/><circle cx="1663.5" cy="123" r="9.9"/><circle cx="1886.5" cy="117" r="9.9"/></g>
<path d="M660 96C660 96 660 96 663.7 108.9C667.4 121.8 674.9 147.5 682.3 171.9C689.7 196.3 697.2 219.4 704.6 240.1C712 260.9 719.5 279.4 726.9 295.6C734.3 311.8 741.8 325.6 749.2 338.9C756.6 352.2 764.1 364.9 771.5 376.5C778.9 388.1 786.4 398.7 793.8 408.1C801.2 417.5 808.7 425.9 816.1 433.8C823.5 441.7 831 449.3 838.4 455.9C845.8 462.5 853.3 468.3 864.4 477.1C875.6 486 890.4 498 905.3 506.7C920.2 515.3 935 520.7 949.9 525.1C964.8 529.5 979.6 533 994.5 535.8C1009.4 538.5 1024.2 540.5 1039.1 541.9C1054 543.3 1068.8 544.2 1083.7 544.6C1098.6 545.1 1113.4 545.3 1128.3 545.4C1143.2 545.4 1158 545.5 1172.9 544.9C1187.8 544.3 1202.6 543.2 1217.5 542.2C1232.4 541.2 1247.2 540.3 1262.1 539.3C1277 538.3 1291.8 537.2 1306.7 536.2C1321.6 535.2 1336.4 534.3 1351.3 533.3C1366.2 532.3 1381 531.2 1395.9 530.2C1410.8 529.2 1425.6 528.3 1440.5 527.4C1455.4 526.5 1470.2 525.5 1492.5 524.4C1514.8 523.3 1544.6 522.2 1574.3 521C1604 519.8 1633.8 518.7 1685.8 517.1C1737.8 515.5 1812.2 513.5 1849.3 512.5C1886.5 511.5 1886.5 511.5 1886.5 511.5" fill="none" stroke="#00ffff" stroke-width="7.0" stroke-linejoin="round"/>
<g fill="#00ffff"><circle cx="660" cy="96" r="9.9"/><circle cx="682.3" cy="173.3" r="9.9"/><circle cx="704.6" cy="242.4" r="9.9"/><circle cx="726.9" cy="297.9" r="9.9"/><circle cx="749.2" cy="339.5" r="9.9"/><circle cx="771.5" cy="377.6" r="9.9"/><circle cx="793.8" cy="409.2" r="9.9"/><circle cx="816.1" cy="434.2" r="9.9"/><circle cx="838.4" cy="456.8" r="9.9"/><circle cx="860.7" cy="474" r="9.9"/><circle cx="905.3" cy="510" r="9.9"/><circle cx="949.9" cy="526" r="9.9"/><circle cx="994.5" cy="536.5" r="9.9"/><circle cx="1039.1" cy="542.5" r="9.9"/><circle cx="1083.7" cy="545" r="9.9"/><circle cx="1128.3" cy="545.4" r="9.9"/><circle cx="1172.9" cy="545.5" r="9.9"/><circle cx="1217.5" cy="542" r="9.9"/><circle cx="1262.1" cy="539.5" r="9.9"/><circle cx="1306.7" cy="536" r="9.9"/><circle cx="1351.3" cy="533.5" r="9.9"/><circle cx="1395.9" cy="530" r="9.9"/><circle cx="1440.5" cy="527.5" r="9.9"/><circle cx="1485.1" cy="524.5" r="9.9"/><circle cx="1574.3" cy="521" r="9.9"/><circle cx="1663.5" cy="517.5" r="9.9"/><circle cx="1886.5" cy="511.5" r="9.9"/></g>
<path d="M571.5 -16C575.3 17.3 579.7 43.7 583.4 65.8C587.2 87.8 590.1 105.7 593.1 123.2C596.1 140.8 599 158.2 602.8 178.6C606.5 199 610.9 222.5 616.9 251.9C622.8 281.3 630.3 316.7 637.7 348.9C645.1 381.2 652.6 410.3 660 437.7C667.4 465 674.9 490.5 682.3 513.9C689.7 537.3 697.2 558.7 704.6 578.3C712 597.9 719.5 615.8 726.9 632.4C734.3 649 741.8 664.2 749.2 678.4C756.6 692.6 764.1 705.7 771.5 717.6C778.9 729.5 786.4 740.3 793.8 750.2C801.2 760.1 808.7 769.2 816.1 777.6C823.5 786 831 793.6 838.4 800.7C845.8 807.7 853.3 814.1 864.4 822.1C875.6 830 890.4 839.5 905.3 847.7C920.2 855.8 935 862.7 949.9 868.6C964.8 874.4 979.6 879.4 994.5 883.7C1009.4 888.1 1024.2 891.9 1039.1 895.1C1054 898.3 1068.8 900.9 1083.7 903.2C1098.6 905.6 1113.4 907.7 1128.3 909.3C1143.2 910.9 1158 912.1 1172.9 913.4C1187.8 914.8 1202.6 916.4 1217.5 917.9C1232.4 919.3 1247.2 920.7 1262.1 921.9C1277 923.2 1291.8 924.3 1306.7 925.4C1321.6 926.5 1336.4 927.5 1351.3 928.3C1366.2 929.2 1381 929.8 1395.9 930.5C1410.8 931.2 1425.6 931.8 1440.5 932.3C1455.4 932.8 1470.2 933.2 1492.5 933.6C1514.8 934 1544.6 934.5 1574.3 934.8C1604 935.2 1633.8 935.3 1685.8 935.4C1737.8 935.5 1812.2 935.5 1849.3 935.5C1886.5 935.5 1886.5 935.5 1886.5 935.5" fill="none" stroke="#00ff00" stroke-width="7.2" stroke-linecap="round" stroke-dasharray="0.1 13.7"/>
<g fill="#ffffff" stroke="#00ff00" stroke-width="4.5"><circle cx="584.2" cy="70" r="7.7"/><circle cx="593.1" cy="123.5" r="7.7"/><circle cx="602" cy="175.5" r="7.7"/><circle cx="615.4" cy="246" r="7.7"/><circle cx="637.7" cy="352" r="7.7"/><circle cx="660" cy="439.5" r="7.7"/><circle cx="682.3" cy="516" r="7.7"/><circle cx="704.6" cy="580" r="7.7"/><circle cx="726.9" cy="633.7" r="7.7"/><circle cx="749.2" cy="679.5" r="7.7"/><circle cx="771.5" cy="718.8" r="7.7"/><circle cx="793.8" cy="751" r="7.7"/><circle cx="816.1" cy="778.3" r="7.7"/><circle cx="838.4" cy="801.3" r="7.7"/><circle cx="860.7" cy="820.5" r="7.7"/><circle cx="905.3" cy="849" r="7.7"/><circle cx="949.9" cy="869.5" r="7.7"/><circle cx="994.5" cy="884.3" r="7.7"/><circle cx="1039.1" cy="895.7" r="7.7"/><circle cx="1083.7" cy="903.5" r="7.7"/><circle cx="1128.3" cy="909.8" r="7.7"/><circle cx="1172.9" cy="913.2" r="7.7"/><circle cx="1217.5" cy="918" r="7.7"/><circle cx="1262.1" cy="922" r="7.7"/><circle cx="1306.7" cy="925.5" r="7.7"/><circle cx="1351.3" cy="928.5" r="7.7"/><circle cx="1395.9" cy="930.5" r="7.7"/><circle cx="1440.5" cy="932.5" r="7.7"/><circle cx="1485.1" cy="933.5" r="7.7"/><circle cx="1574.3" cy="935" r="7.7"/><circle cx="1663.5" cy="935.5" r="7.7"/><circle cx="1886.5" cy="935.5" r="7.7"/></g>
<path d="M730.6 -69.3C734.3 -48.7 741.8 -7.3 749.2 23.9C756.6 55.2 764.1 76.5 771.5 96.1C778.9 115.8 786.4 133.8 793.8 150.8C801.2 167.8 808.7 183.6 816.1 198.5C823.5 213.4 831 227.3 838.4 240.4C845.8 253.5 853.3 265.8 864.4 282.1C875.6 298.3 890.4 318.6 905.3 336.4C920.2 354.3 935 369.7 949.9 383.3C964.8 396.8 979.6 408.4 994.5 418.6C1009.4 428.8 1024.2 437.7 1039.1 445.6C1054 453.6 1068.8 460.6 1083.7 466.7C1098.6 472.8 1113.4 477.8 1128.3 482.5C1143.2 487.1 1158 491.3 1172.9 494.8C1187.8 498.3 1202.6 501.1 1217.5 503.3C1232.4 505.5 1247.2 507.2 1262.1 508.6C1277 510 1291.8 511.1 1306.7 512C1321.6 512.9 1336.4 513.5 1351.3 513.9C1366.2 514.4 1381 514.7 1395.9 515C1410.8 515.2 1425.6 515.5 1440.5 515.5C1455.4 515.5 1470.2 515.2 1492.5 515C1514.8 514.7 1544.6 514.4 1574.3 514.1C1604 513.8 1633.8 513.5 1685.8 513C1737.8 512.5 1812.2 511.7 1849.3 511.4C1886.5 511 1886.5 511 1886.5 511" fill="none" stroke="#00ff00" stroke-width="7.2" stroke-linecap="round" stroke-dasharray="0.1 13.7"/>
<g fill="#ffffff" stroke="#00ff00" stroke-width="4.5"><circle cx="771.5" cy="97.7" r="7.7"/><circle cx="793.8" cy="151.9" r="7.7"/><circle cx="816.1" cy="199.5" r="7.7"/><circle cx="838.4" cy="241.2" r="7.7"/><circle cx="860.7" cy="278.1" r="7.7"/><circle cx="905.3" cy="338.8" r="7.7"/><circle cx="949.9" cy="385.2" r="7.7"/><circle cx="994.5" cy="420" r="7.7"/><circle cx="1039.1" cy="446.5" r="7.7"/><circle cx="1083.7" cy="467.7" r="7.7"/><circle cx="1128.3" cy="482.9" r="7.7"/><circle cx="1172.9" cy="495.5" r="7.7"/><circle cx="1217.5" cy="503.9" r="7.7"/><circle cx="1262.1" cy="508.8" r="7.7"/><circle cx="1306.7" cy="512.3" r="7.7"/><circle cx="1351.3" cy="514.1" r="7.7"/><circle cx="1395.9" cy="515" r="7.7"/><circle cx="1440.5" cy="515.7" r="7.7"/><circle cx="1485.1" cy="515" r="7.7"/><circle cx="1574.3" cy="514.1" r="7.7"/><circle cx="1663.5" cy="513.2" r="7.7"/><circle cx="1886.5" cy="511" r="7.7"/></g>
<path d="M663.7 -80.8C667.4 -61.7 674.9 -23.3 682.3 12.5C689.7 48.3 697.2 81.7 704.6 113.3C712 145 719.5 174.9 726.9 203.3C734.3 231.6 741.8 258.3 749.2 283.5C756.6 308.7 764.1 332.5 771.5 355C778.9 377.5 786.4 398.7 793.8 419C801.2 439.2 808.7 458.4 816.1 476.3C823.5 494.2 831 510.8 838.4 526.6C845.8 542.4 853.3 557.4 864.4 577.5C875.6 597.6 890.4 622.8 905.3 645.5C920.2 668.3 935 688.5 949.9 706.7C964.8 724.9 979.6 740.9 994.5 755.2C1009.4 769.5 1024.2 782.1 1039.1 793.6C1054 805.1 1068.8 815.5 1083.7 824.6C1098.6 833.7 1113.4 841.4 1128.3 848.2C1143.2 855.1 1158 861 1172.9 866.8C1187.8 872.5 1202.6 877.9 1217.5 882.9C1232.4 887.8 1247.2 892.3 1262.1 896.1C1277 899.9 1291.8 903.1 1306.7 905.9C1321.6 908.7 1336.4 911.2 1351.3 913.3C1366.2 915.5 1381 917.5 1395.9 919.2C1410.8 920.9 1425.6 922.5 1440.5 924C1455.4 925.6 1470.2 927.2 1492.5 928.4C1514.8 929.6 1544.6 930.5 1574.3 931C1604 931.5 1633.8 931.8 1685.8 931.6C1737.8 931.3 1812.2 930.7 1849.3 930.3C1886.5 930 1886.5 930 1886.5 930" fill="none" stroke="#0000ff" stroke-width="7.2" stroke-linecap="round" stroke-dasharray="0.1 13.7"/>
<g fill="#ffffff" stroke="#0000ff" stroke-width="4.5"><circle cx="704.6" cy="115" r="7.7"/><circle cx="726.9" cy="204.9" r="7.7"/><circle cx="749.2" cy="285" r="7.7"/><circle cx="771.5" cy="356.2" r="7.7"/><circle cx="793.8" cy="420" r="7.7"/><circle cx="816.1" cy="477.6" r="7.7"/><circle cx="838.4" cy="527.4" r="7.7"/><circle cx="860.7" cy="572.4" r="7.7"/><circle cx="905.3" cy="648" r="7.7"/><circle cx="949.9" cy="708.8" r="7.7"/><circle cx="994.5" cy="757" r="7.7"/><circle cx="1039.1" cy="794.6" r="7.7"/><circle cx="1083.7" cy="826" r="7.7"/><circle cx="1128.3" cy="849.1" r="7.7"/><circle cx="1172.9" cy="867" r="7.7"/><circle cx="1217.5" cy="883.4" r="7.7"/><circle cx="1262.1" cy="896.7" r="7.7"/><circle cx="1306.7" cy="906.3" r="7.7"/><circle cx="1351.3" cy="913.6" r="7.7"/><circle cx="1395.9" cy="919.4" r="7.7"/><circle cx="1440.5" cy="924" r="7.7"/><circle cx="1485.1" cy="928.8" r="7.7"/><circle cx="1574.3" cy="931.3" r="7.7"/><circle cx="1663.5" cy="932" r="7.7"/><circle cx="1886.5" cy="930" r="7.7"/></g>
<path d="M571.5 -16.2C575.3 16.9 579.7 42.7 583.4 64.7C587.2 86.6 590.1 104.7 593.1 122.3C596.1 140 599 157.2 602.8 177.6C606.5 197.9 610.9 221.4 616.9 250.8C622.8 280.1 630.3 315.5 637.7 344.2C645.1 372.8 652.6 394.9 660 415.1C667.4 435.4 674.9 453.8 682.3 470.2C689.7 486.6 697.2 500.8 704.6 512.9C712 524.9 719.5 534.6 726.9 544C734.3 553.3 741.8 562.3 749.2 570C756.6 577.7 764.1 584.3 771.5 589.8C778.9 595.4 786.4 599.9 793.8 603.8C801.2 607.7 808.7 610.8 816.1 613.4C823.5 616 831 618 838.4 619.7C845.8 621.4 853.3 622.8 864.4 623.6C875.6 624.4 890.4 624.6 905.3 623.8C920.2 623 935 621.3 949.9 619.2C964.8 617.1 979.6 614.7 994.5 611.9C1009.4 609.2 1024.2 606 1039.1 602.9C1054 599.8 1068.8 596.7 1083.7 593.5C1098.6 590.3 1113.4 587.1 1128.3 584.2C1143.2 581.4 1158 579 1172.9 576.5C1187.8 573.9 1202.6 571.3 1217.5 568.6C1232.4 565.9 1247.2 563.2 1262.1 560.7C1277 558.1 1291.8 555.8 1306.7 553.5C1321.6 551.3 1336.4 549.2 1351.3 547.1C1366.2 545 1381 543 1395.9 541C1410.8 539.1 1425.6 537.3 1440.5 535.6C1455.4 533.8 1470.2 532.2 1492.5 530.2C1514.8 528.2 1544.6 525.8 1574.3 523.8C1604 521.8 1633.8 520.2 1685.8 518.2C1737.8 516.2 1812.2 513.8 1849.3 512.7C1886.5 511.5 1886.5 511.5 1886.5 511.5" fill="none" stroke="#000000" stroke-width="7.2" stroke-linecap="round" stroke-dasharray="0.1 13.7"/>
<g fill="#ffffff" stroke="#000000" stroke-width="4.5"><circle cx="584.2" cy="68.6" r="7.7"/><circle cx="593.1" cy="122.7" r="7.7"/><circle cx="602" cy="174.5" r="7.7"/><circle cx="615.4" cy="244.8" r="7.7"/><circle cx="637.7" cy="350.8" r="7.7"/><circle cx="660" cy="416.9" r="7.7"/><circle cx="682.3" cy="472.3" r="7.7"/><circle cx="704.6" cy="515.1" r="7.7"/><circle cx="726.9" cy="544.4" r="7.7"/><circle cx="749.2" cy="571.2" r="7.7"/><circle cx="771.5" cy="590.8" r="7.7"/><circle cx="793.8" cy="604.5" r="7.7"/><circle cx="816.1" cy="614" r="7.7"/><circle cx="838.4" cy="620" r="7.7"/><circle cx="860.7" cy="624.2" r="7.7"/><circle cx="905.3" cy="624.8" r="7.7"/><circle cx="949.9" cy="619.5" r="7.7"/><circle cx="994.5" cy="612.3" r="7.7"/><circle cx="1039.1" cy="602.9" r="7.7"/><circle cx="1083.7" cy="593.6" r="7.7"/><circle cx="1128.3" cy="583.8" r="7.7"/><circle cx="1172.9" cy="576.6" r="7.7"/><circle cx="1217.5" cy="568.6" r="7.7"/><circle cx="1262.1" cy="560.5" r="7.7"/><circle cx="1306.7" cy="553.4" r="7.7"/><circle cx="1351.3" cy="547.1" r="7.7"/><circle cx="1395.9" cy="540.9" r="7.7"/><circle cx="1440.5" cy="535.5" r="7.7"/><circle cx="1485.1" cy="530.5" r="7.7"/><circle cx="1574.3" cy="523.5" r="7.7"/><circle cx="1663.5" cy="518.5" r="7.7"/><circle cx="1886.5" cy="511.5" r="7.7"/></g>
<path d="M594.6 -70C596.1 -50 599 -10 602.8 22C606.5 54 610.9 77.9 616.9 105.8C622.8 133.6 630.3 165.4 637.7 194.3C645.1 223.3 652.6 249.5 660 273.7C667.4 298 674.9 320.2 682.3 340.5C689.7 360.8 697.2 379.2 704.6 395.9C712 412.7 719.5 427.9 726.9 441.3C734.3 454.8 741.8 466.5 749.2 477.2C756.6 487.9 764.1 497.7 771.5 506C778.9 514.4 786.4 521.5 793.8 528.3C801.2 535.2 808.7 541.9 816.1 547.4C823.5 553 831 557.3 838.4 561.2C845.8 565.1 853.3 568.4 864.4 572.1C875.6 575.8 890.4 579.8 905.3 582.4C920.2 585 935 586.1 949.9 586.6C964.8 587 979.6 586.7 994.5 586C1009.4 585.2 1024.2 584.1 1039.1 582.6C1054 581.1 1068.8 579.3 1083.7 577.5C1098.6 575.7 1113.4 573.9 1128.3 572.1C1143.2 570.3 1158 568.6 1172.9 566.5C1187.8 564.4 1202.6 562 1217.5 559.9C1232.4 557.8 1247.2 556.1 1262.1 554.1C1277 552.2 1291.8 550.1 1306.7 548.2C1321.6 546.2 1336.4 544.5 1351.3 542.7C1366.2 540.9 1381 539.1 1395.9 537.5C1410.8 535.8 1425.6 534.4 1440.5 532.9C1455.4 531.4 1470.2 530 1492.5 528.2C1514.8 526.5 1544.6 524.5 1574.3 522.8C1604 521 1633.8 519.5 1685.8 517.7C1737.8 515.8 1812.2 513.7 1849.3 512.6C1886.5 511.5 1886.5 511.5 1886.5 511.5" fill="none" stroke="#00ffff" stroke-width="7.2" stroke-linecap="round" stroke-dasharray="0.1 13.7"/>
<g fill="#ffffff" stroke="#00ffff" stroke-width="4.5"><circle cx="615.4" cy="101.9" r="7.7"/><circle cx="637.7" cy="197.1" r="7.7"/><circle cx="660" cy="275.7" r="7.7"/><circle cx="682.3" cy="342.5" r="7.7"/><circle cx="704.6" cy="397.5" r="7.7"/><circle cx="726.9" cy="443.1" r="7.7"/><circle cx="749.2" cy="478.2" r="7.7"/><circle cx="771.5" cy="507.4" r="7.7"/><circle cx="793.8" cy="528.5" r="7.7"/><circle cx="816.1" cy="548.6" r="7.7"/><circle cx="838.4" cy="561.7" r="7.7"/><circle cx="860.7" cy="571.8" r="7.7"/><circle cx="905.3" cy="583.8" r="7.7"/><circle cx="949.9" cy="587.3" r="7.7"/><circle cx="994.5" cy="586.4" r="7.7"/><circle cx="1039.1" cy="582.9" r="7.7"/><circle cx="1083.7" cy="577.5" r="7.7"/><circle cx="1128.3" cy="572.1" r="7.7"/><circle cx="1172.9" cy="566.8" r="7.7"/><circle cx="1217.5" cy="559.6" r="7.7"/><circle cx="1262.1" cy="554.3" r="7.7"/><circle cx="1306.7" cy="548" r="7.7"/><circle cx="1351.3" cy="542.7" r="7.7"/><circle cx="1395.9" cy="537.3" r="7.7"/><circle cx="1440.5" cy="532.9" r="7.7"/><circle cx="1485.1" cy="528.5" r="7.7"/><circle cx="1574.3" cy="522.5" r="7.7"/><circle cx="1663.5" cy="518" r="7.7"/><circle cx="1886.5" cy="511.5" r="7.7"/></g>
<path d="M547 -24.5C553 17.7 557.4 55.3 561.1 83.4C564.9 111.4 567.8 129.9 571.5 151.9C575.3 173.9 579.7 199.5 583.4 220.1C587.2 240.8 590.1 256.4 593.1 271.7C596.1 287 599 302 602.8 319.5C606.5 337.1 610.9 357.4 616.9 382.2C622.8 407 630.3 436.3 637.7 463.5C645.1 490.7 652.6 515.8 660 538.7C667.4 561.6 674.9 582.5 682.3 601.4C689.7 620.4 697.2 637.4 704.6 653.3C712 669.2 719.5 683.9 726.9 697.4C734.3 710.8 741.8 723.1 749.2 734.1C756.6 745.2 764.1 755.2 771.5 764.2C778.9 773.2 786.4 781.4 793.8 788.9C801.2 796.3 808.7 803.2 816.1 809.5C823.5 815.8 831 821.7 838.4 826.9C845.8 832.1 853.3 836.7 864.4 842.8C875.6 848.9 890.4 856.4 905.3 862.9C920.2 869.3 935 874.7 949.9 879.2C964.8 883.7 979.6 887.4 994.5 890.9C1009.4 894.3 1024.2 897.6 1039.1 900.4C1054 903.1 1068.8 905.5 1083.7 907.5C1098.6 909.5 1113.4 911.2 1128.3 912.6C1143.2 913.9 1158 915 1172.9 916.2C1187.8 917.5 1202.6 919 1217.5 920.4C1232.4 921.9 1247.2 923.2 1262.1 924.4C1277 925.7 1291.8 926.7 1306.7 927.7C1321.6 928.7 1336.4 929.6 1351.3 930.4C1366.2 931.1 1381 931.7 1395.9 932.3C1410.8 932.9 1425.6 933.4 1440.5 933.9C1455.4 934.3 1470.2 934.7 1492.5 935.1C1514.8 935.4 1544.6 935.9 1574.3 936.1C1604 936.3 1633.8 936.3 1685.8 936.2C1737.8 936.2 1812.2 936.1 1849.3 936.1C1886.5 936 1886.5 936 1886.5 936" fill="none" stroke="#ff0000" stroke-width="7.2" stroke-linecap="round" stroke-dasharray="0.1 13.7"/>
<g fill="#ffffff" stroke="#ff0000" stroke-width="4.5"><circle cx="561.9" cy="93" r="7.7"/><circle cx="570.8" cy="148.3" r="7.7"/><circle cx="584.2" cy="225.1" r="7.7"/><circle cx="593.1" cy="272.1" r="7.7"/><circle cx="602" cy="316.9" r="7.7"/><circle cx="615.4" cy="377.6" r="7.7"/><circle cx="637.7" cy="465.7" r="7.7"/><circle cx="660" cy="540.8" r="7.7"/><circle cx="682.3" cy="603.3" r="7.7"/><circle cx="704.6" cy="654.5" r="7.7"/><circle cx="726.9" cy="698.6" r="7.7"/><circle cx="749.2" cy="735.3" r="7.7"/><circle cx="771.5" cy="765.1" r="7.7"/><circle cx="793.8" cy="789.5" r="7.7"/><circle cx="816.1" cy="810" r="7.7"/><circle cx="838.4" cy="827.5" r="7.7"/><circle cx="860.7" cy="841.3" r="7.7"/><circle cx="905.3" cy="864" r="7.7"/><circle cx="949.9" cy="880" r="7.7"/><circle cx="994.5" cy="891.1" r="7.7"/><circle cx="1039.1" cy="900.8" r="7.7"/><circle cx="1083.7" cy="907.8" r="7.7"/><circle cx="1128.3" cy="912.9" r="7.7"/><circle cx="1172.9" cy="916" r="7.7"/><circle cx="1217.5" cy="920.5" r="7.7"/><circle cx="1262.1" cy="924.6" r="7.7"/><circle cx="1306.7" cy="927.8" r="7.7"/><circle cx="1351.3" cy="930.5" r="7.7"/><circle cx="1395.9" cy="932.3" r="7.7"/><circle cx="1440.5" cy="934" r="7.7"/><circle cx="1485.1" cy="935" r="7.7"/><circle cx="1574.3" cy="936.3" r="7.7"/><circle cx="1663.5" cy="936.3" r="7.7"/><circle cx="1886.5" cy="936" r="7.7"/></g>
<path d="M619.1 -70C622.8 -50 630.3 -10 637.7 25.4C645.1 60.9 652.6 91.8 660 119.5C667.4 147.1 674.9 171.6 682.3 194.1C689.7 216.6 697.2 237.3 704.6 256.3C712 275.4 719.5 292.9 726.9 309C734.3 325.1 741.8 339.7 749.2 353.1C756.6 366.5 764.1 378.6 771.5 389.9C778.9 401.2 786.4 411.8 793.8 421.3C801.2 430.8 808.7 439.4 816.1 447.1C823.5 454.8 831 461.8 838.4 468.1C845.8 474.5 853.3 480.2 864.4 487.5C875.6 494.8 890.4 503.5 905.3 510.4C920.2 517.4 935 522.4 949.9 526.7C964.8 531 979.6 534.4 994.5 537.1C1009.4 539.7 1024.2 541.4 1039.1 542.7C1054 543.9 1068.8 544.7 1083.7 545.1C1098.6 545.5 1113.4 545.5 1128.3 545.6C1143.2 545.7 1158 545.9 1172.9 545.4C1187.8 544.9 1202.6 543.8 1217.5 542.8C1232.4 541.8 1247.2 540.9 1262.1 539.9C1277 538.8 1291.8 537.6 1306.7 536.6C1321.6 535.5 1336.4 534.7 1351.3 533.6C1366.2 532.6 1381 531.4 1395.9 530.4C1410.8 529.4 1425.6 528.7 1440.5 527.8C1455.4 526.9 1470.2 525.8 1492.5 524.7C1514.8 523.6 1544.6 522.5 1574.3 521.3C1604 520.1 1633.8 518.9 1685.8 517.3C1737.8 515.6 1812.2 513.6 1849.3 512.5C1886.5 511.5 1886.5 511.5 1886.5 511.5" fill="none" stroke="#ff0000" stroke-width="7.2" stroke-linecap="round" stroke-dasharray="0.1 13.7"/>
<g fill="#ffffff" stroke="#ff0000" stroke-width="4.5"><circle cx="660" cy="122.7" r="7.7"/><circle cx="682.3" cy="196" r="7.7"/><circle cx="704.6" cy="257.9" r="7.7"/><circle cx="726.9" cy="310.4" r="7.7"/><circle cx="749.2" cy="354.4" r="7.7"/><circle cx="771.5" cy="390.7" r="7.7"/><circle cx="793.8" cy="422.3" r="7.7"/><circle cx="816.1" cy="447.9" r="7.7"/><circle cx="838.4" cy="468.7" r="7.7"/><circle cx="860.7" cy="486" r="7.7"/><circle cx="905.3" cy="512.3" r="7.7"/><circle cx="949.9" cy="527.5" r="7.7"/><circle cx="994.5" cy="537.9" r="7.7"/><circle cx="1039.1" cy="543.2" r="7.7"/><circle cx="1083.7" cy="545.4" r="7.7"/><circle cx="1128.3" cy="545.6" r="7.7"/><circle cx="1172.9" cy="546" r="7.7"/><circle cx="1217.5" cy="542.7" r="7.7"/><circle cx="1262.1" cy="540" r="7.7"/><circle cx="1306.7" cy="536.4" r="7.7"/><circle cx="1351.3" cy="533.8" r="7.7"/><circle cx="1395.9" cy="530.2" r="7.7"/><circle cx="1440.5" cy="527.9" r="7.7"/><circle cx="1485.1" cy="524.8" r="7.7"/><circle cx="1574.3" cy="521.3" r="7.7"/><circle cx="1663.5" cy="517.7" r="7.7"/><circle cx="1886.5" cy="511.5" r="7.7"/></g>
</g>
<g stroke="#000000" stroke-width="7" fill="none" stroke-linecap="butt">
<path d="M548.5 2268.5 v-30.5 M548.5 44.5 v30.5 M771.5 2268.5 v-30.5 M771.5 44.5 v30.5 M994.5 2268.5 v-30.5 M994.5 44.5 v30.5 M1217.5 2268.5 v-30.5 M1217.5 44.5 v30.5 M1440.5 2268.5 v-30.5 M1440.5 44.5 v30.5 M1663.5 2268.5 v-30.5 M1663.5 44.5 v30.5 M437 2268.5 v-14.6 M437 44.5 v14.6 M660 2268.5 v-14.6 M660 44.5 v14.6 M883 2268.5 v-14.6 M883 44.5 v14.6 M1106 2268.5 v-14.6 M1106 44.5 v14.6 M1329 2268.5 v-14.6 M1329 44.5 v14.6 M1552 2268.5 v-14.6 M1552 44.5 v14.6 M1775 2268.5 v-14.6 M1775 44.5 v14.6 M325.5 266.9 h30.5 M1886.5 266.9 h-30.5 M325.5 489.3 h30.5 M1886.5 489.3 h-30.5 M325.5 711.7 h30.5 M1886.5 711.7 h-30.5 M325.5 934.1 h30.5 M1886.5 934.1 h-30.5 M325.5 1156.5 h30.5 M1886.5 1156.5 h-30.5 M325.5 1378.9 h30.5 M1886.5 1378.9 h-30.5 M325.5 1601.3 h30.5 M1886.5 1601.3 h-30.5 M325.5 1823.7 h30.5 M1886.5 1823.7 h-30.5 M325.5 2046.1 h30.5 M1886.5 2046.1 h-30.5 M325.5 155.7 h14.6 M1886.5 155.7 h-14.6 M325.5 378.1 h14.6 M1886.5 378.1 h-14.6 M325.5 600.5 h14.6 M1886.5 600.5 h-14.6 M325.5 822.9 h14.6 M1886.5 822.9 h-14.6 M325.5 1045.3 h14.6 M1886.5 1045.3 h-14.6 M325.5 1267.7 h14.6 M1886.5 1267.7 h-14.6 M325.5 1490.1 h14.6 M1886.5 1490.1 h-14.6 M325.5 1712.5 h14.6 M1886.5 1712.5 h-14.6 M325.5 1934.9 h14.6 M1886.5 1934.9 h-14.6 M325.5 2157.3 h14.6 M1886.5 2157.3 h-14.6"/>
<rect x="325.5" y="44.5" width="1561" height="2224"/>
</g>
<text transform="translate(0 66.00) scale(1 1.04)" fill="#000000"><tspan x="211.67" y="0.00" font-family='"Liberation Sans", Arial, Helvetica, sans-serif' font-weight="bold" font-size="72">40</tspan></text>
<text transform="translate(0 288.40) scale(1 1.04)" fill="#000000"><tspan x="211.67" y="0.00" font-family='"Liberation Sans", Arial, Helvetica, sans-serif' font-weight="bold" font-size="72">30</tspan></text>
<text transform="translate(0 510.80) scale(1 1.04)" fill="#000000"><tspan x="211.67" y="0.00" font-family='"Liberation Sans", Arial, Helvetica, sans-serif' font-weight="bold" font-size="72">20</tspan></text>
<text transform="translate(0 733.20) scale(1 1.04)" fill="#000000"><tspan x="211.67" y="0.00" font-family='"Liberation Sans", Arial, Helvetica, sans-serif' font-weight="bold" font-size="72">10</tspan></text>
<text transform="translate(0 955.60) scale(1 1.04)" fill="#000000"><tspan x="251.71" y="0.00" font-family='"Liberation Sans", Arial, Helvetica, sans-serif' font-weight="bold" font-size="72">0</tspan></text>
<text transform="translate(0 1178.00) scale(1 1.04)" fill="#000000"><tspan x="169.62" y="0.00" font-family='"Liberation Sans", Arial, Helvetica, sans-serif' font-weight="bold" font-size="72">−10</tspan></text>
<text transform="translate(0 1400.40) scale(1 1.04)" fill="#000000"><tspan x="169.62" y="0.00" font-family='"Liberation Sans", Arial, Helvetica, sans-serif' font-weight="bold" font-size="72">−20</tspan></text>
<text transform="translate(0 1622.80) scale(1 1.04)" fill="#000000"><tspan x="169.62" y="0.00" font-family='"Liberation Sans", Arial, Helvetica, sans-serif' font-weight="bold" font-size="72">−30</tspan></text>
<text transform="translate(0 1845.20) scale(1 1.04)" fill="#000000"><tspan x="169.62" y="0.00" font-family='"Liberation Sans", Arial, Helvetica, sans-serif' font-weight="bold" font-size="72">−40</tspan></text>
<text transform="translate(0 2067.60) scale(1 1.04)" fill="#000000"><tspan x="169.62" y="0.00" font-family='"Liberation Sans", Arial, Helvetica, sans-serif' font-weight="bold" font-size="72">−50</tspan></text>
<text transform="translate(0 2290.00) scale(1 1.04)" fill="#000000"><tspan x="169.62" y="0.00" font-family='"Liberation Sans", Arial, Helvetica, sans-serif' font-weight="bold" font-size="72">−60</tspan></text>
<text transform="translate(0 2359.00) scale(1 1.04)" fill="#000000"><tspan x="276.26" y="0.00" font-family='"Liberation Sans", Arial, Helvetica, sans-serif' font-weight="bold" font-size="72">1.0</tspan></text>
<text transform="translate(0 2359.00) scale(1 1.04)" fill="#000000"><tspan x="499.26" y="0.00" font-family='"Liberation Sans", Arial, Helvetica, sans-serif' font-weight="bold" font-size="72">1.5</tspan></text>
<text transform="translate(0 2359.00) scale(1 1.04)" fill="#000000"><tspan x="722.26" y="0.00" font-family='"Liberation Sans", Arial, Helvetica, sans-serif' font-weight="bold" font-size="72">2.0</tspan></text>
<text transform="translate(0 2359.00) scale(1 1.04)" fill="#000000"><tspan x="945.26" y="0.00" font-family='"Liberation Sans", Arial, Helvetica, sans-serif' font-weight="bold" font-size="72">2.5</tspan></text>
<text transform="translate(0 2359.00) scale(1 1.04)" fill="#000000"><tspan x="1168.26" y="0.00" font-family='"Liberation Sans", Arial, Helvetica, sans-serif' font-weight="bold" font-size="72">3.0</tspan></text>
<text transform="translate(0 2359.00) scale(1 1.04)" fill="#000000"><tspan x="1391.26" y="0.00" font-family='"Liberation Sans", Arial, Helvetica, sans-serif' font-weight="bold" font-size="72">3.5</tspan></text>
<text transform="translate(0 2359.00) scale(1 1.04)" fill="#000000"><tspan x="1614.26" y="0.00" font-family='"Liberation Sans", Arial, Helvetica, sans-serif' font-weight="bold" font-size="72">4.0</tspan></text>
<text transform="translate(0 2359.00) scale(1 1.04)" fill="#000000"><tspan x="1837.26" y="0.00" font-family='"Liberation Sans", Arial, Helvetica, sans-serif' font-weight="bold" font-size="72">4.5</tspan></text>
<text transform="translate(84 1156.2) rotate(-90)" text-anchor="middle" letter-spacing="0.12" font-family='"Liberation Sans", Arial, Helvetica, sans-serif' font-weight="bold" font-size="80" fill="#000000">relative energy (kcal/mol)</text>
<text transform="translate(0 2498.80) scale(1 1.03)" fill="#000000"><tspan x="887.63" y="0.00" font-family='"Liberation Sans", Arial, Helvetica, sans-serif' font-weight="bold" font-size="80">r(Sc</tspan><tspan x="1044.73" y="-33.30" font-family='"Liberation Sans", Arial, Helvetica, sans-serif' font-weight="bold" font-size="54">+</tspan><tspan x="1072.81" y="6.02" font-family='"Liberation Serif", "Times New Roman", Times, serif' font-weight="normal" font-size="80" letter-spacing="-6.1">···</tspan><tspan x="1136.95" y="0.00" font-family='"Liberation Sans", Arial, Helvetica, sans-serif' font-weight="bold" font-size="80">H), Å</tspan></text>
<text transform="translate(0 267.30) scale(1 1.03)" fill="#000000"><tspan x="1351.23" y="0.00" font-family='"Liberation Sans", Arial, Helvetica, sans-serif' font-weight="bold" font-size="72">Sc</tspan><tspan x="1439.89" y="-28.64" font-family='"Liberation Sans", Arial, Helvetica, sans-serif' font-weight="bold" font-size="50">+</tspan><tspan x="1469.29" y="0.00" font-family='"Liberation Sans", Arial, Helvetica, sans-serif' font-weight="bold" font-size="72">(</tspan><tspan x="1493.27" y="-28.64" font-family='"Liberation Sans", Arial, Helvetica, sans-serif' font-weight="bold" font-size="50">1</tspan><tspan x="1521.48" y="0.00" font-family='"Liberation Sans", Arial, Helvetica, sans-serif' font-weight="bold" font-size="72">D; </tspan><tspan x="1618.20" y="0.00" font-family='"Liberation Sans", Arial, Helvetica, sans-serif' font-weight="bold" font-size="72">3d</tspan><tspan x="1702.22" y="-28.64" font-family='"Liberation Sans", Arial, Helvetica, sans-serif' font-weight="bold" font-size="50">2</tspan><tspan x="1730.63" y="0.00" font-family='"Liberation Sans", Arial, Helvetica, sans-serif' font-weight="bold" font-size="72">)+H</tspan></text>
<text transform="translate(0 405.20) scale(1 1.03)" fill="#000000"><tspan x="1357.93" y="0.00" font-family='"Liberation Sans", Arial, Helvetica, sans-serif' font-weight="bold" font-size="72">Sc</tspan><tspan x="1446.59" y="-28.64" font-family='"Liberation Sans", Arial, Helvetica, sans-serif' font-weight="bold" font-size="50">+</tspan><tspan x="1475.99" y="0.00" font-family='"Liberation Sans", Arial, Helvetica, sans-serif' font-weight="bold" font-size="72">(</tspan><tspan x="1499.97" y="-28.64" font-family='"Liberation Sans", Arial, Helvetica, sans-serif' font-weight="bold" font-size="50">3</tspan><tspan x="1528.18" y="0.00" font-family='"Liberation Sans", Arial, Helvetica, sans-serif' font-weight="bold" font-size="72">F; </tspan><tspan x="1617.00" y="0.00" font-family='"Liberation Sans", Arial, Helvetica, sans-serif' font-weight="bold" font-size="72">3d</tspan><tspan x="1701.02" y="-28.64" font-family='"Liberation Sans", Arial, Helvetica, sans-serif' font-weight="bold" font-size="50">2</tspan><tspan x="1729.43" y="0.00" font-family='"Liberation Sans", Arial, Helvetica, sans-serif' font-weight="bold" font-size="72">)+H</tspan></text>
<text transform="translate(0 702.30) scale(1 1.03)" fill="#000000"><tspan x="1252.33" y="0.00" font-family='"Liberation Sans", Arial, Helvetica, sans-serif' font-weight="bold" font-size="72">Sc</tspan><tspan x="1340.99" y="-28.64" font-family='"Liberation Sans", Arial, Helvetica, sans-serif' font-weight="bold" font-size="50">+</tspan><tspan x="1370.39" y="0.00" font-family='"Liberation Sans", Arial, Helvetica, sans-serif' font-weight="bold" font-size="72">(</tspan><tspan x="1394.37" y="-28.64" font-family='"Liberation Sans", Arial, Helvetica, sans-serif' font-weight="bold" font-size="50">1</tspan><tspan x="1422.58" y="0.00" font-family='"Liberation Sans", Arial, Helvetica, sans-serif' font-weight="bold" font-size="72">D; </tspan><tspan x="1519.51" y="0.00" font-family='"Liberation Sans", Arial, Helvetica, sans-serif' font-weight="bold" font-size="72">3d</tspan><tspan x="1603.53" y="-28.64" font-family='"Liberation Sans", Arial, Helvetica, sans-serif' font-weight="bold" font-size="50">1</tspan><tspan x="1631.94" y="0.00" font-family='"Liberation Sans", Arial, Helvetica, sans-serif' font-weight="bold" font-size="72">4s</tspan><tspan x="1712.02" y="-28.64" font-family='"Liberation Sans", Arial, Helvetica, sans-serif' font-weight="bold" font-size="50">1</tspan><tspan x="1740.43" y="0.00" font-family='"Liberation Sans", Arial, Helvetica, sans-serif' font-weight="bold" font-size="72">)+H</tspan></text>
<text transform="translate(0 1245.90) scale(1 1.03)" fill="#000000"><tspan x="1260.03" y="0.00" font-family='"Liberation Sans", Arial, Helvetica, sans-serif' font-weight="bold" font-size="72">Sc</tspan><tspan x="1348.69" y="-28.64" font-family='"Liberation Sans", Arial, Helvetica, sans-serif' font-weight="bold" font-size="50">+</tspan><tspan x="1378.09" y="0.00" font-family='"Liberation Sans", Arial, Helvetica, sans-serif' font-weight="bold" font-size="72">(</tspan><tspan x="1402.07" y="-28.64" font-family='"Liberation Sans", Arial, Helvetica, sans-serif' font-weight="bold" font-size="50">3</tspan><tspan x="1430.28" y="0.00" font-family='"Liberation Sans", Arial, Helvetica, sans-serif' font-weight="bold" font-size="72">D; </tspan><tspan x="1528.21" y="0.00" font-family='"Liberation Sans", Arial, Helvetica, sans-serif' font-weight="bold" font-size="72">3d</tspan><tspan x="1612.23" y="-28.64" font-family='"Liberation Sans", Arial, Helvetica, sans-serif' font-weight="bold" font-size="50">1</tspan><tspan x="1640.64" y="0.00" font-family='"Liberation Sans", Arial, Helvetica, sans-serif' font-weight="bold" font-size="72">4s</tspan><tspan x="1720.72" y="-28.64" font-family='"Liberation Sans", Arial, Helvetica, sans-serif' font-weight="bold" font-size="50">1</tspan><tspan x="1749.13" y="0.00" font-family='"Liberation Sans", Arial, Helvetica, sans-serif' font-weight="bold" font-size="72">)+H</tspan></text>
<path d="M1775.7 199.5 L1842.7 147.7" stroke="#000000" stroke-width="3.5" fill="none"/>
<path d="M1876.7 121.4 L1848.1 158 L1834.1 139.8 Z" fill="#000000"/>
<path d="M1779.1 425.1 L1847.4 480.3" stroke="#000000" stroke-width="3.5" fill="none"/>
<path d="M1880.9 507.3 L1838.7 488 L1853.1 470.1 Z" fill="#000000"/>
<path d="M1780.8 721.4 L1847.6 771.3" stroke="#000000" stroke-width="3.5" fill="none"/>
<path d="M1882 797 L1839.1 779.3 L1852.8 760.9 Z" fill="#000000"/>
<path d="M1715 1140.2 L1848.8 978.2" stroke="#000000" stroke-width="3.5" fill="none"/>
<path d="M1876.2 945 L1856.4 987 L1838.7 972.4 Z" fill="#000000"/>
<path d="M578.7 1950.6 L519.3 1995" stroke="#0000ff" stroke-width="5" fill="none"/>
<path d="M478.5 2025.5 L513 1983.2 L528.9 2004.4 Z" fill="#0000ff"/>
<path d="M761.5 2039 L838.3 2099.7" stroke="#ff0000" stroke-width="5" fill="none"/>
<path d="M878.3 2131.3 L828.5 2108.8 L844.9 2088 Z" fill="#ff0000"/>
<text transform="translate(0 1261.70) scale(1 1.0)" fill="#0000ff"><tspan x="639.72" y="0.00" font-family='"Liberation Sans", Arial, Helvetica, sans-serif' font-weight="bold" font-size="83">2</tspan><tspan x="685.32" y="-32.80" font-family='"Liberation Sans", Arial, Helvetica, sans-serif' font-weight="bold" font-size="57">2</tspan><tspan x="713.36" y="0.00" font-family='"Liberation Serif", "Times New Roman", Times, serif' font-weight="normal" font-size="80" textLength="51.22" lengthAdjust="spacingAndGlyphs">Σ</tspan><tspan x="761.97" y="-26.25" font-family='"Liberation Serif", "Times New Roman", Times, serif' font-weight="normal" font-size="61">+</tspan></text>
<text transform="translate(0 2093.80) scale(1 1.0)" fill="#0000ff"><tspan x="367.27" y="0.00" font-family='"Liberation Sans", Arial, Helvetica, sans-serif' font-weight="bold" font-size="83">1</tspan><tspan x="411.32" y="-32.80" font-family='"Liberation Sans", Arial, Helvetica, sans-serif' font-weight="bold" font-size="57">2</tspan><tspan x="439.56" y="0.00" font-family='"Liberation Serif", "Times New Roman", Times, serif' font-weight="normal" font-size="80" textLength="51.22" lengthAdjust="spacingAndGlyphs">Σ</tspan><tspan x="488.37" y="-26.25" font-family='"Liberation Serif", "Times New Roman", Times, serif' font-weight="normal" font-size="61">+</tspan></text>
<text transform="translate(0 2183.40) scale(1 1.0)" fill="#ff0000"><tspan x="873.57" y="0.00" font-family='"Liberation Sans", Arial, Helvetica, sans-serif' font-weight="bold" font-size="83">1</tspan><tspan x="918.42" y="-32.80" font-family='"Liberation Sans", Arial, Helvetica, sans-serif' font-weight="bold" font-size="57">2</tspan><tspan x="947.40" y="0.00" font-family='"Liberation Serif", "Times New Roman", Times, serif' font-weight="normal" font-size="80" textLength="65.28" lengthAdjust="spacingAndGlyphs">Π</tspan></text>
<text transform="translate(0 2226.80) scale(1 1.0)" fill="#00ff00"><tspan x="536.77" y="0.00" font-family='"Liberation Sans", Arial, Helvetica, sans-serif' font-weight="bold" font-size="83">1</tspan><tspan x="580.82" y="-32.80" font-family='"Liberation Sans", Arial, Helvetica, sans-serif' font-weight="bold" font-size="57">2</tspan><tspan x="609.28" y="0.00" font-family='"Liberation Serif", "Times New Roman", Times, serif' font-weight="normal" font-size="80" textLength="52.73" lengthAdjust="spacingAndGlyphs">Δ</tspan></text>
<rect x="1143.7" y="1661.7" width="705.6" height="570" fill="#ffffff" stroke="#000000" stroke-width="2"/>
<path d="M1154 1725.5 H1333" stroke="#00ff00" stroke-width="7.5" stroke-linecap="round" fill="none"/>
<circle cx="1243.7" cy="1725.5" r="9.3" fill="#00ff00"/>
<path d="M1530.8 1725.5 H1704" stroke="#00ff00" stroke-width="7.2" stroke-linecap="round" stroke-dasharray="0.1 13.9" fill="none"/>
<circle cx="1620.6" cy="1725.5" r="7.7" fill="#ffffff" stroke="#00ff00" stroke-width="4.5"/>
<text transform="translate(0 1720.30) scale(1 1.0)" fill="#000000"><tspan x="1353.50" y="0.00" font-family='"Liberation Sans", Arial, Helvetica, sans-serif' font-weight="normal" font-size="56" textLength="32.08" lengthAdjust="spacingAndGlyphs">2</tspan><tspan x="1384.28" y="32.10" font-family='"Liberation Serif", "Times New Roman", Times, serif' font-weight="normal" font-size="80" textLength="52.73" lengthAdjust="spacingAndGlyphs">Δ</tspan></text>
<text transform="translate(0 1720.30) scale(1 1.0)" fill="#000000"><tspan x="1733.88" y="0.00" font-family='"Liberation Sans", Arial, Helvetica, sans-serif' font-weight="normal" font-size="56" textLength="32.08" lengthAdjust="spacingAndGlyphs">4</tspan><tspan x="1761.98" y="32.10" font-family='"Liberation Serif", "Times New Roman", Times, serif' font-weight="normal" font-size="80" textLength="52.73" lengthAdjust="spacingAndGlyphs">Δ</tspan></text>
<path d="M1154 1841.3 H1333" stroke="#0000ff" stroke-width="7.5" stroke-linecap="round" fill="none"/>
<circle cx="1243.7" cy="1841.3" r="9.3" fill="#0000ff"/>
<path d="M1530.8 1841.3 H1704" stroke="#0000ff" stroke-width="7.2" stroke-linecap="round" stroke-dasharray="0.1 13.9" fill="none"/>
<circle cx="1620.6" cy="1841.3" r="7.7" fill="#ffffff" stroke="#0000ff" stroke-width="4.5"/>
<text transform="translate(0 1837.00) scale(1 1.0)" fill="#000000"><tspan x="1353.50" y="0.00" font-family='"Liberation Sans", Arial, Helvetica, sans-serif' font-weight="normal" font-size="56" textLength="32.08" lengthAdjust="spacingAndGlyphs">2</tspan><tspan x="1385.06" y="32.10" font-family='"Liberation Serif", "Times New Roman", Times, serif' font-weight="normal" font-size="80" textLength="51.22" lengthAdjust="spacingAndGlyphs">Σ</tspan><tspan x="1431.37" y="4.85" font-family='"Liberation Serif", "Times New Roman", Times, serif' font-weight="normal" font-size="61">+</tspan></text>
<text transform="translate(0 1837.00) scale(1 1.0)" fill="#000000"><tspan x="1730.98" y="0.00" font-family='"Liberation Sans", Arial, Helvetica, sans-serif' font-weight="normal" font-size="56" textLength="32.08" lengthAdjust="spacingAndGlyphs">4</tspan><tspan x="1761.16" y="32.10" font-family='"Liberation Serif", "Times New Roman", Times, serif' font-weight="normal" font-size="80" textLength="51.22" lengthAdjust="spacingAndGlyphs">Σ</tspan><tspan x="1808.17" y="4.85" font-family='"Liberation Serif", "Times New Roman", Times, serif' font-weight="normal" font-size="61">+</tspan></text>
<path d="M1154 1956.6 H1333" stroke="#000000" stroke-width="7.5" stroke-linecap="round" fill="none"/>
<circle cx="1243.7" cy="1956.6" r="9.3" fill="#000000"/>
<path d="M1530.8 1956.6 H1704" stroke="#000000" stroke-width="7.2" stroke-linecap="round" stroke-dasharray="0.1 13.9" fill="none"/>
<circle cx="1620.6" cy="1956.6" r="7.7" fill="#ffffff" stroke="#000000" stroke-width="4.5"/>
<text transform="translate(0 1952.40) scale(1 1.0)" fill="#000000"><tspan x="1353.50" y="0.00" font-family='"Liberation Sans", Arial, Helvetica, sans-serif' font-weight="normal" font-size="56" textLength="32.08" lengthAdjust="spacingAndGlyphs">2</tspan><tspan x="1385.06" y="32.10" font-family='"Liberation Serif", "Times New Roman", Times, serif' font-weight="normal" font-size="80" textLength="51.22" lengthAdjust="spacingAndGlyphs">Σ</tspan><tspan x="1431.37" y="4.85" font-family='"Liberation Serif", "Times New Roman", Times, serif' font-weight="normal" font-size="61">−</tspan></text>
<text transform="translate(0 1952.40) scale(1 1.0)" fill="#000000"><tspan x="1730.98" y="0.00" font-family='"Liberation Sans", Arial, Helvetica, sans-serif' font-weight="normal" font-size="56" textLength="32.08" lengthAdjust="spacingAndGlyphs">4</tspan><tspan x="1761.16" y="32.10" font-family='"Liberation Serif", "Times New Roman", Times, serif' font-weight="normal" font-size="80" textLength="51.22" lengthAdjust="spacingAndGlyphs">Σ</tspan><tspan x="1808.17" y="4.85" font-family='"Liberation Serif", "Times New Roman", Times, serif' font-weight="normal" font-size="61">−</tspan></text>
<path d="M1154 2066.6 H1333" stroke="#ff0000" stroke-width="7.5" stroke-linecap="round" fill="none"/>
<circle cx="1243.7" cy="2066.6" r="9.3" fill="#ff0000"/>
<path d="M1530.8 2066.6 H1704" stroke="#ff0000" stroke-width="7.2" stroke-linecap="round" stroke-dasharray="0.1 13.9" fill="none"/>
<circle cx="1620.6" cy="2066.6" r="7.7" fill="#ffffff" stroke="#ff0000" stroke-width="4.5"/>
<text transform="translate(0 2061.40) scale(1 1.0)" fill="#000000"><tspan x="1353.50" y="0.00" font-family='"Liberation Sans", Arial, Helvetica, sans-serif' font-weight="normal" font-size="56" textLength="32.08" lengthAdjust="spacingAndGlyphs">2</tspan><tspan x="1385.00" y="32.10" font-family='"Liberation Serif", "Times New Roman", Times, serif' font-weight="normal" font-size="80" textLength="65.28" lengthAdjust="spacingAndGlyphs">Π</tspan></text>
<text transform="translate(0 2061.40) scale(1 1.0)" fill="#000000"><tspan x="1730.98" y="0.00" font-family='"Liberation Sans", Arial, Helvetica, sans-serif' font-weight="normal" font-size="56" textLength="32.08" lengthAdjust="spacingAndGlyphs">4</tspan><tspan x="1760.90" y="32.10" font-family='"Liberation Serif", "Times New Roman", Times, serif' font-weight="normal" font-size="80" textLength="65.28" lengthAdjust="spacingAndGlyphs">Π</tspan></text>
<path d="M1154 2176.3 H1333" stroke="#00ffff" stroke-width="7.5" stroke-linecap="round" fill="none"/>
<circle cx="1243.7" cy="2176.3" r="9.3" fill="#00ffff"/>
<path d="M1530.8 2176.3 H1704" stroke="#00ffff" stroke-width="7.2" stroke-linecap="round" stroke-dasharray="0.1 13.9" fill="none"/>
<circle cx="1620.6" cy="2176.3" r="7.7" fill="#ffffff" stroke="#00ffff" stroke-width="4.5"/>
<text transform="translate(0 2171.80) scale(1 1.0)" fill="#000000"><tspan x="1353.50" y="0.00" font-family='"Liberation Sans", Arial, Helvetica, sans-serif' font-weight="normal" font-size="56" textLength="32.08" lengthAdjust="spacingAndGlyphs">2</tspan><tspan x="1386.66" y="32.10" font-family='"Liberation Serif", "Times New Roman", Times, serif' font-weight="normal" font-size="80" textLength="61.40" lengthAdjust="spacingAndGlyphs">Φ</tspan></text>
<text transform="translate(0 2171.80) scale(1 1.0)" fill="#000000"><tspan x="1730.98" y="0.00" font-family='"Liberation Sans", Arial, Helvetica, sans-serif' font-weight="normal" font-size="56" textLength="32.08" lengthAdjust="spacingAndGlyphs">4</tspan><tspan x="1761.66" y="32.10" font-family='"Liberation Serif", "Times New Roman", Times, serif' font-weight="normal" font-size="80" textLength="61.40" lengthAdjust="spacingAndGlyphs">Φ</tspan></text>
</svg>
</body>
</html>
